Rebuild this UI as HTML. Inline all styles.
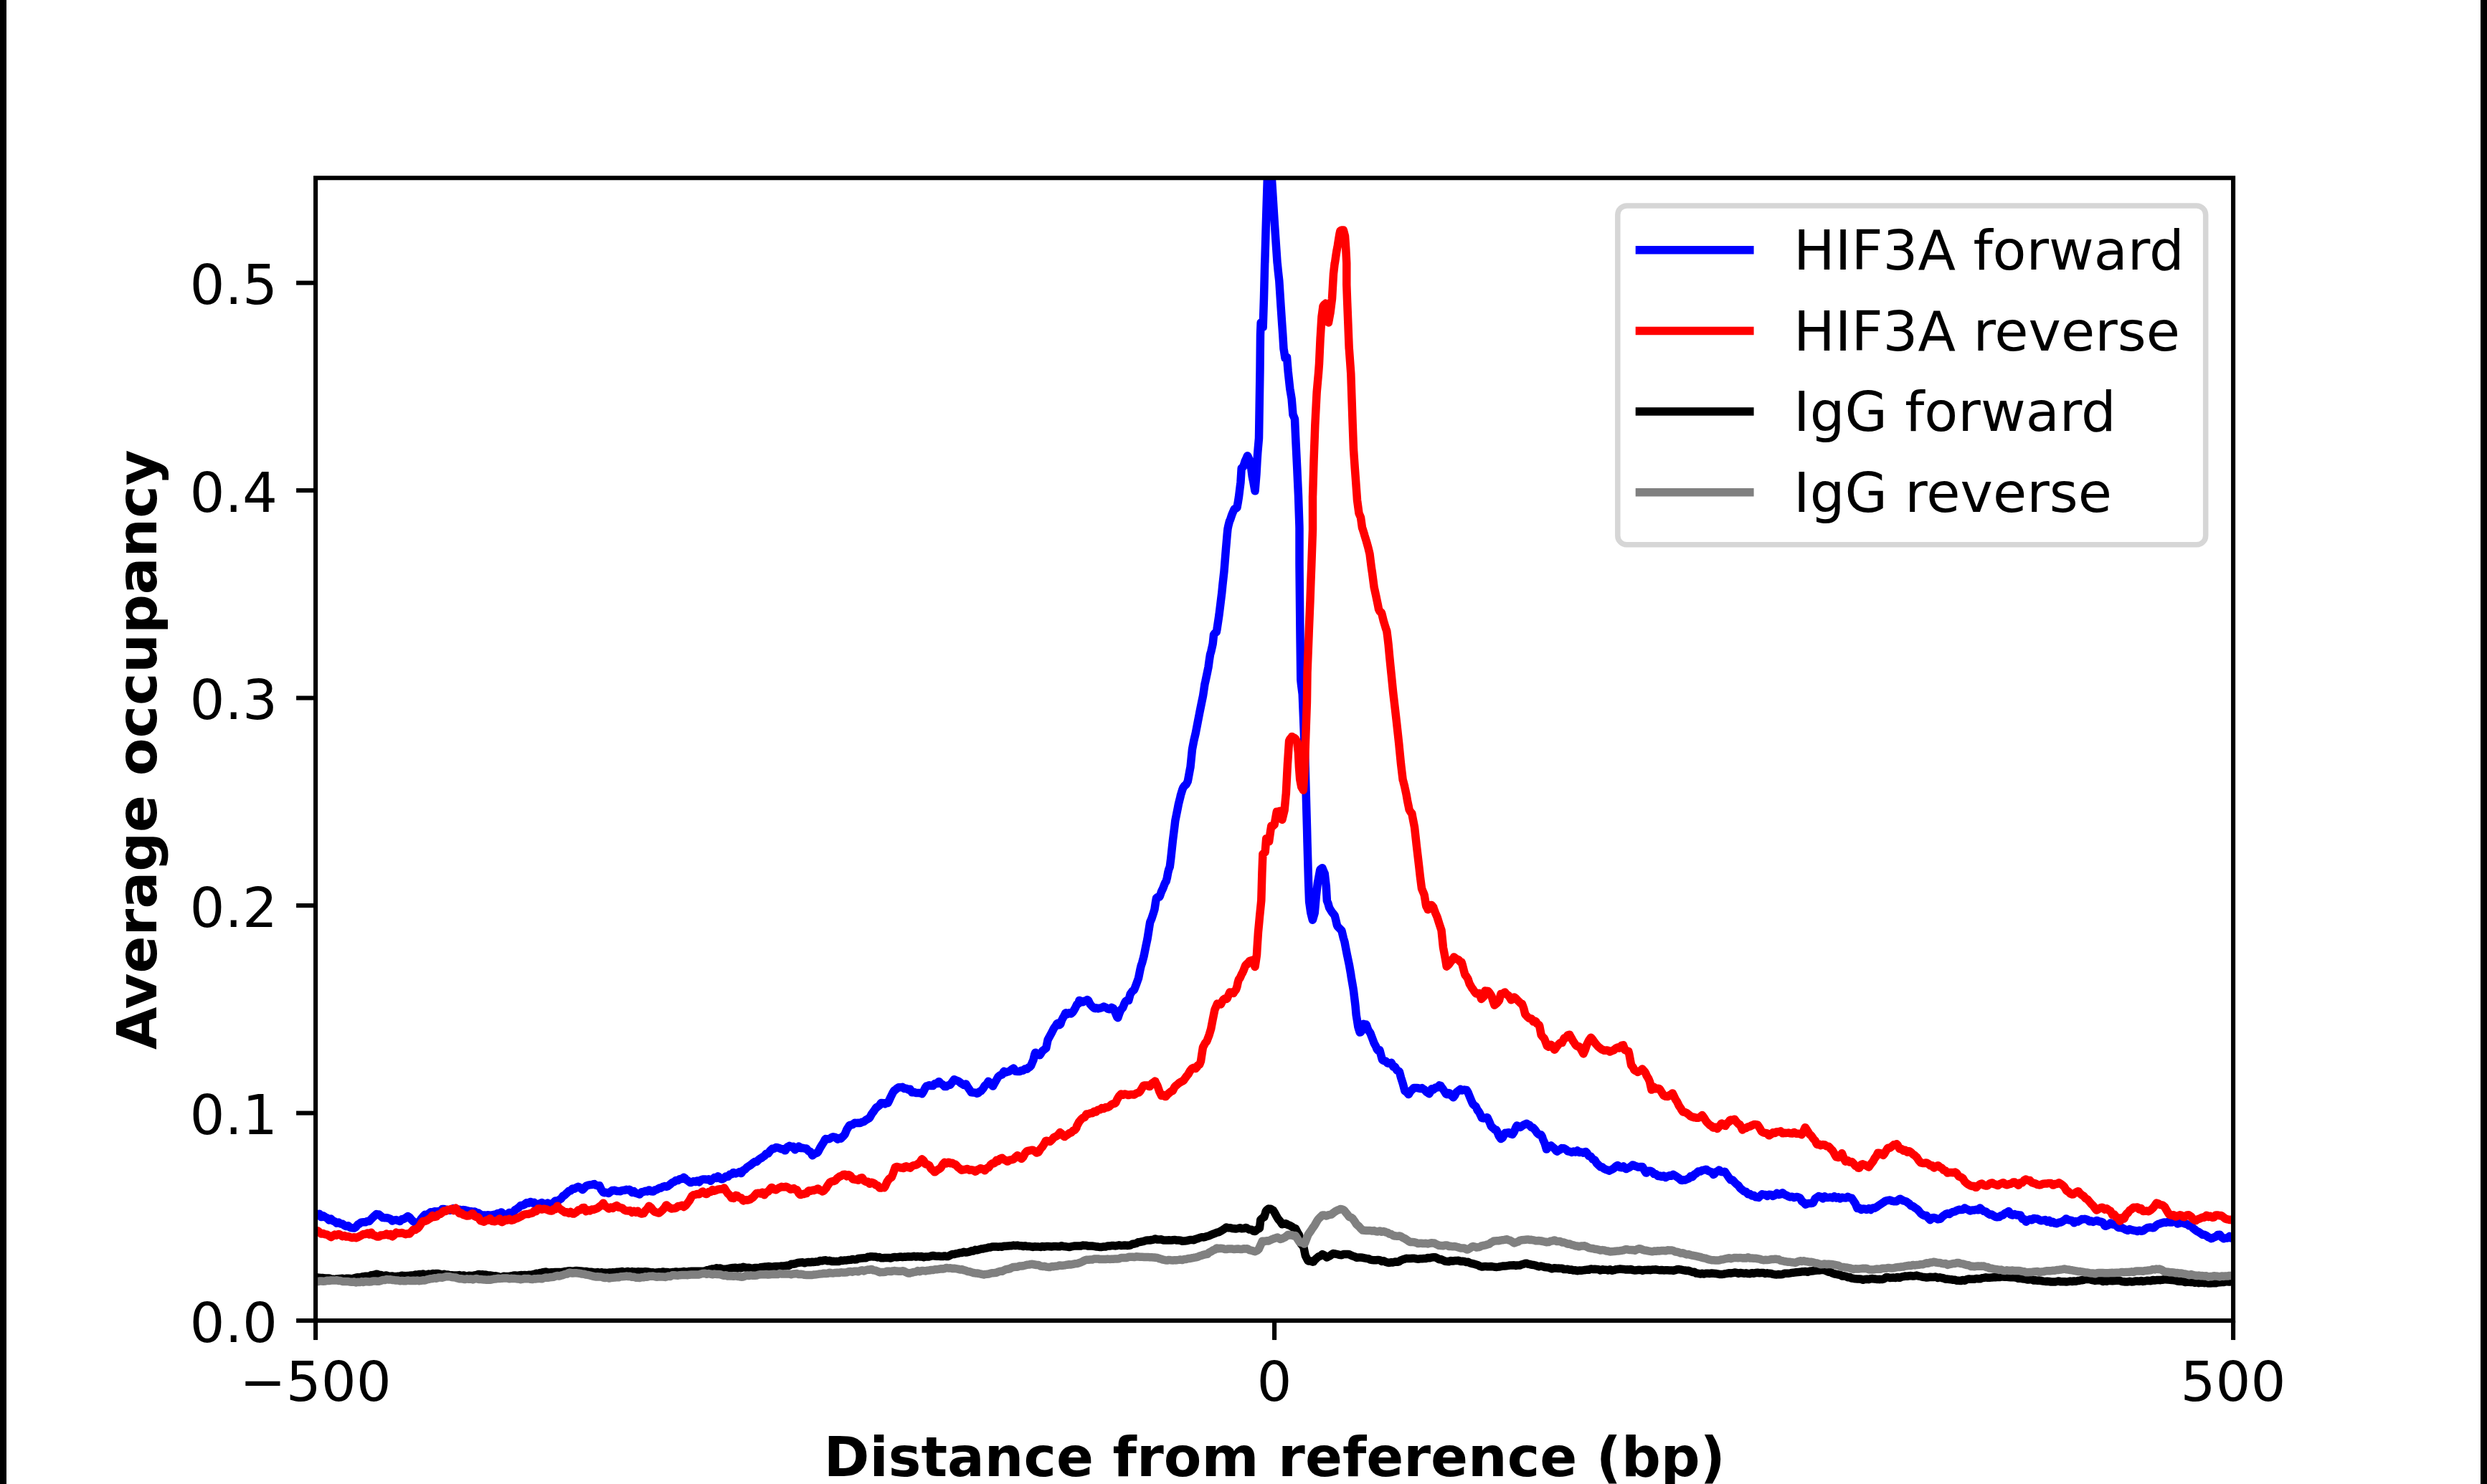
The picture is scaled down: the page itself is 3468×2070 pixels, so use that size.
<!DOCTYPE html>
<html lang="en"><head><meta charset="utf-8"><title>Average occupancy</title>
<style>html,body{margin:0;padding:0;background:#fff;}body{width:3468px;height:2070px;overflow:hidden;}svg{display:block;}text{font-family:"DejaVu Sans","Liberation Sans",sans-serif;fill:#000;}</style></head><body>
<svg width="3468" height="2070" viewBox="0 0 3468 2070">
<rect x="0" y="0" width="3468" height="2070" fill="#fff"/>
<rect x="0" y="0" width="9" height="2070" fill="#000"/>
<rect x="3459" y="0" width="9" height="2070" fill="#000"/>
<defs><clipPath id="ax"><rect x="440.1" y="248.2" width="2674.0" height="1593.9"/></clipPath></defs>
<g clip-path="url(#ax)" fill="none" stroke-width="11.5" stroke-linejoin="round" stroke-linecap="square">
<path d="M440.0 1693.6 L440.1 1693.5 L442.8 1695.6 L443.8 1694.7 L445.4 1693.3 L448.1 1697.6 L450.8 1695.9 L452.5 1696.9 L453.5 1697.8 L456.1 1698.8 L458.8 1701.8 L461.5 1700.1 L462.5 1701.2 L464.2 1702.8 L466.8 1703.8 L469.5 1706.2 L472.2 1705.1 L472.5 1705.4 L474.9 1707.0 L477.5 1707.3 L480.2 1709.2 L482.5 1710.5 L482.9 1710.6 L485.6 1709.7 L488.2 1712.3 L490.9 1712.7 L493.6 1712.9 L493.8 1713.0 L496.3 1711.5 L498.9 1708.2 L501.6 1706.8 L502.5 1705.9 L504.3 1704.9 L506.9 1704.8 L509.6 1704.8 L510.0 1704.6 L512.3 1703.4 L515.0 1703.4 L515.0 1703.4 L517.6 1700.5 L520.3 1697.7 L523.0 1695.2 L525.0 1693.6 L525.7 1694.0 L528.3 1694.0 L531.0 1696.2 L533.7 1698.5 L535.0 1698.6 L536.4 1698.7 L539.0 1698.8 L541.7 1699.2 L544.4 1700.3 L545.0 1701.1 L547.1 1703.0 L549.7 1701.9 L552.4 1701.6 L555.0 1702.6 L555.1 1702.6 L557.8 1703.5 L560.4 1700.8 L562.5 1700.5 L563.1 1700.3 L565.8 1698.7 L568.5 1696.8 L568.8 1696.6 L571.1 1698.1 L573.8 1701.2 L576.2 1703.6 L576.5 1703.7 L579.1 1705.4 L581.8 1706.7 L582.5 1707.0 L584.5 1704.4 L587.2 1700.3 L589.8 1697.3 L590.0 1697.0 L592.5 1694.3 L595.2 1694.8 L597.9 1692.8 L600.0 1691.1 L600.5 1690.8 L603.2 1690.9 L605.9 1689.7 L608.6 1690.0 L611.2 1689.7 L612.5 1689.7 L613.9 1689.9 L616.6 1686.6 L619.3 1686.5 L621.9 1687.2 L624.6 1687.7 L627.3 1688.3 L627.5 1688.2 L630.0 1687.7 L632.6 1685.5 L635.3 1686.9 L638.0 1687.8 L640.0 1687.3 L640.6 1687.3 L643.3 1688.2 L646.0 1687.6 L648.7 1688.0 L651.3 1688.8 L652.5 1689.0 L654.0 1689.4 L656.7 1689.8 L659.4 1690.2 L662.0 1690.1 L664.7 1691.5 L665.0 1691.6 L667.4 1692.2 L670.1 1694.0 L672.7 1695.0 L675.4 1695.0 L677.5 1695.3 L678.1 1695.1 L680.8 1694.7 L683.4 1695.4 L686.1 1694.9 L688.8 1694.3 L690.0 1694.3 L691.5 1694.0 L694.1 1692.4 L696.8 1692.6 L698.8 1691.1 L699.5 1691.1 L702.2 1693.7 L704.8 1694.0 L705.0 1694.1 L707.5 1693.7 L710.2 1691.5 L712.8 1691.9 L715.0 1691.8 L715.5 1691.5 L718.2 1687.7 L720.9 1686.1 L722.5 1684.9 L723.5 1684.4 L726.2 1681.4 L728.9 1681.3 L731.6 1680.1 L732.5 1679.0 L734.2 1677.7 L736.9 1678.3 L739.6 1676.4 L740.0 1676.5 L742.3 1678.1 L744.9 1677.4 L747.5 1680.4 L747.6 1680.5 L750.3 1679.5 L753.0 1678.7 L755.6 1677.6 L757.5 1678.6 L758.3 1679.4 L761.0 1680.7 L763.7 1678.0 L765.0 1679.7 L766.3 1680.6 L769.0 1679.9 L771.7 1677.6 L772.5 1676.9 L774.3 1675.1 L777.0 1675.7 L779.7 1673.6 L782.4 1672.0 L782.5 1671.9 L785.0 1668.4 L787.7 1666.9 L790.0 1664.4 L790.4 1664.2 L793.1 1661.4 L795.7 1660.9 L798.4 1657.9 L800.0 1658.0 L801.1 1658.3 L803.8 1656.5 L806.2 1655.3 L806.4 1655.4 L809.1 1656.9 L811.8 1659.2 L812.5 1659.5 L814.5 1657.5 L817.1 1654.6 L817.5 1654.2 L819.8 1653.4 L822.5 1652.7 L825.2 1652.6 L827.8 1651.7 L828.8 1651.6 L830.5 1653.0 L833.2 1653.9 L835.9 1653.8 L836.2 1654.5 L838.5 1659.5 L841.2 1663.2 L842.5 1663.7 L843.9 1663.3 L846.5 1663.7 L848.8 1664.4 L849.2 1664.0 L851.9 1661.9 L853.8 1660.5 L854.6 1660.7 L857.2 1660.3 L859.9 1661.4 L862.5 1661.6 L862.6 1661.6 L865.3 1661.8 L867.9 1660.4 L870.0 1660.3 L870.6 1660.3 L873.3 1659.3 L876.0 1659.9 L877.5 1659.2 L878.6 1659.8 L881.3 1663.4 L884.0 1661.7 L886.2 1664.2 L886.7 1664.3 L889.3 1665.1 L892.0 1666.0 L894.7 1662.8 L895.0 1662.8 L897.4 1662.3 L900.0 1661.3 L902.7 1661.9 L905.0 1659.9 L905.4 1659.9 L908.0 1661.8 L910.7 1662.0 L911.2 1662.0 L913.4 1659.8 L916.1 1659.3 L918.7 1657.6 L920.0 1657.0 L921.4 1657.2 L924.1 1655.5 L926.8 1654.6 L929.4 1655.3 L931.2 1654.8 L932.1 1654.0 L934.8 1651.9 L937.5 1649.5 L940.0 1648.5 L940.1 1648.5 L942.8 1646.4 L945.5 1646.5 L947.5 1644.9 L948.2 1644.7 L950.8 1644.3 L953.5 1642.3 L955.0 1643.4 L956.2 1645.1 L958.9 1646.7 L961.5 1648.8 L962.5 1649.6 L964.2 1649.5 L966.9 1647.8 L969.6 1648.6 L972.2 1647.0 L972.5 1647.2 L974.9 1649.0 L977.6 1645.8 L980.2 1645.1 L982.9 1645.0 L985.0 1645.3 L985.6 1645.4 L988.3 1644.8 L990.9 1647.2 L993.6 1644.7 L993.8 1644.7 L996.3 1642.5 L999.0 1643.4 L1001.2 1640.9 L1001.6 1641.1 L1004.3 1643.2 L1005.0 1644.4 L1007.0 1644.8 L1009.7 1643.2 L1012.3 1640.9 L1015.0 1641.3 L1015.0 1641.3 L1017.7 1638.3 L1020.4 1637.9 L1022.5 1635.7 L1023.0 1635.5 L1025.7 1636.9 L1028.4 1636.1 L1030.0 1635.6 L1031.1 1634.6 L1033.7 1636.6 L1036.4 1632.6 L1037.5 1632.1 L1039.1 1631.0 L1041.7 1628.3 L1044.4 1626.5 L1045.0 1626.2 L1047.1 1624.7 L1049.8 1622.5 L1052.4 1620.6 L1052.5 1620.6 L1055.1 1620.6 L1057.8 1617.8 L1060.5 1615.7 L1062.0 1615.2 L1063.1 1614.2 L1065.8 1612.5 L1068.5 1609.3 L1069.5 1609.3 L1071.2 1609.1 L1073.8 1605.2 L1076.5 1602.7 L1077.0 1602.3 L1079.2 1602.2 L1081.9 1600.6 L1084.5 1600.8 L1087.0 1601.7 L1087.2 1601.9 L1089.9 1602.8 L1092.6 1602.7 L1094.5 1604.8 L1095.2 1604.8 L1097.9 1599.9 L1100.6 1598.6 L1100.8 1598.4 L1103.3 1600.0 L1105.9 1599.3 L1107.0 1601.7 L1108.6 1603.7 L1111.3 1601.4 L1113.9 1599.2 L1115.8 1600.4 L1116.6 1601.6 L1119.3 1601.2 L1122.0 1602.0 L1124.5 1602.0 L1124.6 1602.1 L1127.3 1605.4 L1130.0 1606.6 L1132.7 1611.4 L1133.2 1611.7 L1135.3 1609.7 L1138.0 1608.5 L1139.5 1608.2 L1140.7 1606.7 L1143.4 1601.6 L1146.0 1597.3 L1148.7 1593.0 L1150.8 1589.1 L1151.4 1588.6 L1154.1 1588.9 L1156.7 1588.5 L1159.4 1586.7 L1162.0 1585.8 L1162.1 1585.9 L1164.8 1586.4 L1167.4 1588.6 L1168.2 1589.1 L1170.1 1587.5 L1172.8 1588.1 L1175.4 1585.0 L1175.8 1584.9 L1178.1 1582.2 L1180.8 1575.6 L1183.5 1571.4 L1184.5 1569.8 L1186.1 1569.3 L1188.8 1568.7 L1191.5 1566.6 L1192.0 1566.3 L1194.2 1566.4 L1196.8 1566.3 L1199.5 1566.4 L1202.0 1565.3 L1202.2 1565.1 L1204.9 1564.4 L1207.5 1562.3 L1210.2 1560.7 L1212.0 1559.8 L1212.9 1558.7 L1215.6 1553.7 L1218.2 1550.4 L1220.9 1546.3 L1222.0 1545.0 L1223.6 1544.0 L1226.3 1542.0 L1228.2 1539.0 L1228.9 1538.4 L1231.6 1538.7 L1233.2 1538.8 L1234.3 1539.8 L1237.0 1537.7 L1238.2 1538.5 L1239.6 1535.7 L1242.3 1529.7 L1245.0 1524.3 L1247.0 1521.0 L1247.6 1521.2 L1250.3 1518.6 L1253.0 1516.8 L1255.7 1516.8 L1255.8 1516.8 L1258.3 1516.3 L1261.0 1518.4 L1263.7 1518.3 L1266.4 1519.9 L1267.0 1519.6 L1269.0 1519.2 L1271.7 1523.8 L1274.4 1523.2 L1277.0 1524.3 L1277.1 1524.4 L1279.7 1524.5 L1282.4 1524.6 L1285.1 1525.3 L1285.8 1525.6 L1287.8 1522.5 L1290.4 1517.1 L1292.0 1514.9 L1293.1 1515.1 L1295.8 1513.7 L1298.5 1514.6 L1300.8 1514.6 L1301.1 1514.4 L1303.8 1511.4 L1306.5 1511.6 L1309.1 1508.7 L1309.5 1508.7 L1311.8 1511.5 L1314.5 1512.9 L1317.2 1515.5 L1319.5 1515.6 L1319.8 1515.1 L1322.5 1513.8 L1325.2 1513.1 L1327.9 1509.2 L1330.5 1505.8 L1330.8 1505.7 L1333.2 1507.0 L1335.9 1507.9 L1338.6 1509.6 L1339.5 1510.6 L1341.2 1511.7 L1343.9 1513.4 L1346.6 1512.1 L1347.0 1512.2 L1349.3 1516.2 L1351.9 1519.8 L1354.5 1523.8 L1354.6 1523.8 L1357.3 1523.9 L1360.0 1524.3 L1362.6 1525.2 L1364.5 1524.4 L1365.3 1523.0 L1368.0 1521.8 L1370.7 1518.6 L1373.3 1514.4 L1376.0 1512.1 L1378.2 1508.3 L1378.7 1508.5 L1381.3 1511.4 L1384.0 1514.7 L1384.5 1515.1 L1386.7 1511.2 L1389.4 1506.5 L1392.0 1501.9 L1392.0 1501.9 L1394.7 1499.7 L1397.4 1498.9 L1399.5 1495.1 L1400.1 1494.4 L1402.7 1495.9 L1405.4 1494.9 L1405.8 1494.9 L1408.1 1493.9 L1410.8 1491.7 L1410.8 1491.7 L1413.4 1490.1 L1415.8 1493.9 L1416.1 1494.3 L1418.8 1494.4 L1421.5 1494.5 L1422.0 1494.4 L1424.1 1493.2 L1426.8 1493.2 L1429.5 1490.9 L1429.5 1490.9 L1432.2 1491.3 L1434.8 1488.6 L1435.8 1488.5 L1437.5 1486.8 L1440.2 1480.2 L1440.8 1479.1 L1442.8 1470.7 L1443.8 1468.2 L1445.5 1470.4 L1448.2 1471.5 L1450.0 1471.8 L1450.9 1470.5 L1453.5 1466.1 L1456.2 1464.0 L1458.8 1462.0 L1458.9 1461.4 L1461.2 1450.2 L1461.6 1449.5 L1464.2 1444.7 L1466.9 1439.7 L1468.8 1435.9 L1469.6 1434.4 L1472.3 1430.7 L1473.8 1428.1 L1474.9 1427.4 L1477.6 1429.6 L1478.8 1428.5 L1480.3 1423.7 L1482.5 1419.3 L1483.0 1418.8 L1485.6 1413.5 L1486.2 1413.0 L1488.3 1414.6 L1491.0 1412.8 L1491.2 1413.1 L1493.7 1413.9 L1496.2 1411.5 L1496.3 1411.3 L1498.8 1407.0 L1499.0 1406.9 L1501.7 1401.1 L1503.8 1400.0 L1504.4 1397.9 L1505.0 1395.4 L1507.0 1396.1 L1509.7 1397.7 L1511.2 1397.2 L1512.4 1396.2 L1515.0 1395.7 L1516.2 1394.4 L1517.7 1395.8 L1520.0 1400.6 L1520.4 1401.0 L1523.1 1404.0 L1525.7 1406.3 L1527.5 1406.7 L1528.4 1405.9 L1531.1 1406.9 L1532.5 1406.2 L1533.8 1406.4 L1536.4 1405.5 L1539.1 1404.1 L1540.0 1404.5 L1541.8 1405.3 L1544.5 1406.9 L1545.0 1407.4 L1547.1 1407.7 L1549.8 1405.6 L1550.0 1405.4 L1552.5 1406.7 L1553.8 1409.2 L1555.2 1412.5 L1557.8 1418.8 L1558.8 1419.8 L1560.5 1414.6 L1562.5 1409.7 L1563.2 1408.2 L1565.9 1405.4 L1567.5 1401.0 L1568.5 1398.8 L1570.0 1396.3 L1571.2 1395.7 L1573.8 1395.5 L1573.9 1395.1 L1576.2 1386.5 L1576.5 1386.1 L1579.2 1382.4 L1581.2 1381.0 L1581.9 1379.7 L1584.6 1372.6 L1587.2 1365.4 L1587.5 1364.7 L1589.9 1352.6 L1591.2 1347.0 L1592.6 1343.1 L1595.0 1334.1 L1595.3 1332.6 L1597.9 1319.7 L1600.0 1309.8 L1600.6 1306.0 L1603.3 1288.9 L1603.8 1286.1 L1606.0 1281.1 L1608.6 1272.9 L1610.0 1268.4 L1611.3 1259.6 L1612.5 1252.7 L1614.0 1251.5 L1616.7 1251.1 L1617.5 1249.7 L1619.3 1244.3 L1622.0 1238.5 L1623.8 1233.6 L1624.7 1231.4 L1626.2 1229.2 L1627.4 1224.4 L1628.8 1216.8 L1630.0 1212.3 L1631.2 1209.4 L1632.7 1197.7 L1635.0 1176.3 L1635.4 1172.7 L1638.1 1151.1 L1638.8 1144.9 L1640.7 1135.4 L1642.5 1126.3 L1643.4 1121.6 L1646.1 1110.8 L1646.2 1109.9 L1648.7 1101.7 L1650.0 1098.5 L1651.4 1096.5 L1654.1 1094.2 L1656.2 1090.2 L1656.8 1087.2 L1659.4 1072.9 L1660.0 1070.0 L1662.1 1049.0 L1662.5 1045.1 L1664.8 1033.1 L1667.5 1021.6 L1667.5 1021.4 L1670.1 1007.8 L1672.5 995.5 L1672.8 993.9 L1675.5 980.5 L1677.5 970.8 L1678.2 966.3 L1680.0 954.2 L1680.8 950.8 L1683.5 938.0 L1685.0 930.6 L1686.2 921.8 L1687.5 913.1 L1688.9 908.3 L1691.2 898.0 L1691.5 895.1 L1692.5 885.4 L1694.2 883.0 L1696.2 881.7 L1696.9 878.4 L1699.6 860.3 L1700.0 857.6 L1702.2 839.7 L1703.8 826.8 L1704.9 815.6 L1707.0 796.6 L1707.6 789.2 L1709.5 765.4 L1710.2 757.3 L1711.2 745.5 L1712.0 737.7 L1712.9 733.3 L1714.5 727.0 L1715.6 724.7 L1717.5 718.9 L1718.3 716.7 L1720.9 710.8 L1721.2 710.2 L1723.6 709.0 L1725.0 708.0 L1726.3 700.6 L1727.5 693.0 L1729.0 680.8 L1730.0 672.7 L1731.2 653.0 L1731.6 652.7 L1733.8 650.9 L1734.3 649.3 L1736.2 643.1 L1737.0 641.7 L1739.5 635.8 L1739.7 636.0 L1742.3 641.7 L1743.8 644.8 L1745.0 655.2 L1746.2 664.6 L1747.7 671.8 L1750.0 684.8 L1750.4 680.9 L1752.0 661.3 L1753.0 642.9 L1753.8 630.8 L1755.5 611.2 L1755.7 598.8 L1756.2 566.5 L1757.0 516.8 L1757.5 467.1 L1758.2 449.9 L1758.4 450.4 L1761.1 455.7 L1761.2 456.3 L1762.5 415.5 L1763.7 366.8 L1763.8 366.0 L1763.8 366.0 L1765.4 310.9 L1766.4 278.6 L1767.3 250.5 L1768.9 238.3 L1769.1 237.8 L1770.4 235.2 L1771.8 239.4 L1771.9 239.8 L1773.5 250.6 L1774.4 264.6 L1777.1 307.8 L1777.3 311.0 L1779.8 347.7 L1781.1 366.9 L1781.2 367.0 L1782.4 379.2 L1783.8 391.8 L1785.1 412.1 L1786.2 429.2 L1787.8 452.8 L1788.8 466.9 L1790.0 486.6 L1790.5 489.4 L1792.0 499.6 L1793.1 498.9 L1794.5 498.0 L1795.8 513.6 L1796.2 518.3 L1798.5 539.6 L1798.8 542.2 L1801.2 556.6 L1801.2 557.1 L1803.0 578.8 L1803.8 580.1 L1805.5 584.5 L1806.5 607.1 L1807.0 617.4 L1808.8 654.0 L1809.2 663.2 L1810.5 691.3 L1811.9 732.8 L1812.0 737.1 L1812.0 787.3 L1812.5 837.6 L1813.0 887.8 L1813.8 948.1 L1814.5 954.8 L1816.2 968.3 L1817.0 988.2 L1817.2 993.4 L1818.0 1013.4 L1819.9 1061.1 L1820.0 1064.0 L1821.3 1110.5 L1822.6 1158.0 L1823.0 1175.0 L1824.5 1227.8 L1825.2 1247.1 L1825.6 1257.6 L1827.8 1273.2 L1827.9 1273.7 L1830.3 1283.2 L1830.6 1282.6 L1833.1 1274.0 L1833.3 1272.8 L1835.3 1250.1 L1835.9 1244.4 L1837.5 1230.9 L1838.6 1225.5 L1840.7 1213.7 L1841.3 1212.6 L1843.9 1210.7 L1843.9 1210.8 L1846.6 1217.2 L1847.2 1218.4 L1849.3 1236.7 L1849.3 1236.8 L1850.4 1256.4 L1852.0 1260.4 L1853.6 1266.2 L1854.6 1267.9 L1857.3 1272.3 L1860.0 1275.5 L1861.2 1277.1 L1862.7 1283.1 L1864.4 1290.6 L1865.3 1292.3 L1868.0 1295.2 L1870.7 1297.8 L1870.9 1298.1 L1873.4 1308.6 L1875.0 1313.9 L1876.0 1319.2 L1878.7 1333.1 L1878.8 1333.3 L1881.4 1345.8 L1883.8 1359.6 L1884.1 1362.0 L1886.7 1376.9 L1887.5 1382.1 L1889.4 1397.7 L1890.0 1402.8 L1891.2 1415.9 L1892.1 1421.2 L1893.8 1432.1 L1894.8 1435.6 L1896.2 1440.1 L1897.4 1439.6 L1898.8 1437.8 L1900.1 1432.0 L1901.2 1428.3 L1902.8 1429.3 L1905.0 1429.1 L1905.5 1429.8 L1908.1 1437.4 L1908.8 1438.1 L1910.8 1440.9 L1913.5 1448.0 L1915.0 1452.0 L1916.1 1455.0 L1918.8 1459.9 L1920.0 1463.2 L1921.5 1465.1 L1923.8 1464.8 L1924.2 1465.9 L1926.8 1475.9 L1927.5 1478.2 L1929.5 1479.6 L1932.2 1480.1 L1934.9 1482.9 L1936.5 1483.3 L1937.5 1483.3 L1940.2 1482.3 L1942.9 1488.2 L1944.0 1487.3 L1945.6 1488.7 L1947.8 1492.7 L1948.2 1493.1 L1950.9 1494.4 L1951.5 1495.3 L1953.6 1503.3 L1956.3 1511.7 L1958.9 1521.6 L1959.0 1521.8 L1961.6 1523.5 L1964.0 1526.5 L1964.3 1526.4 L1967.0 1522.0 L1969.6 1519.5 L1971.5 1517.4 L1972.3 1517.5 L1975.0 1517.4 L1977.6 1517.8 L1977.8 1517.9 L1980.3 1518.5 L1982.8 1517.7 L1983.0 1518.0 L1985.7 1519.6 L1988.3 1522.0 L1989.0 1523.0 L1991.0 1524.4 L1992.8 1525.7 L1993.7 1524.5 L1996.4 1518.9 L1996.5 1518.8 L1999.0 1519.8 L2001.7 1517.0 L2002.8 1517.1 L2004.4 1517.1 L2007.1 1513.9 L2009.0 1514.5 L2009.7 1515.9 L2012.4 1519.5 L2015.1 1523.7 L2016.5 1526.0 L2017.8 1526.4 L2020.4 1524.6 L2021.5 1525.0 L2023.1 1527.6 L2025.8 1529.8 L2026.5 1530.7 L2028.5 1528.3 L2031.1 1523.4 L2033.8 1521.5 L2034.0 1521.1 L2036.5 1519.3 L2039.0 1520.9 L2039.2 1521.0 L2041.8 1520.0 L2044.5 1520.7 L2045.2 1520.5 L2047.2 1524.1 L2049.8 1530.6 L2052.5 1537.1 L2054.0 1540.1 L2055.2 1541.3 L2057.9 1543.3 L2060.5 1549.0 L2061.5 1549.7 L2063.2 1552.5 L2065.9 1558.4 L2066.5 1559.6 L2068.6 1559.9 L2071.2 1559.3 L2073.9 1558.7 L2074.0 1558.8 L2076.6 1564.2 L2079.3 1570.9 L2081.5 1573.1 L2081.9 1573.0 L2084.6 1576.0 L2086.5 1576.1 L2087.3 1577.4 L2090.0 1584.2 L2092.6 1588.1 L2092.8 1588.5 L2095.3 1587.0 L2098.0 1581.6 L2099.0 1580.3 L2100.7 1580.6 L2103.3 1579.7 L2104.0 1579.8 L2106.0 1581.4 L2108.7 1582.2 L2109.0 1582.5 L2111.3 1578.9 L2114.0 1572.1 L2115.2 1570.1 L2116.7 1570.5 L2119.4 1572.5 L2120.2 1572.4 L2122.0 1570.9 L2124.7 1569.2 L2127.4 1567.8 L2129.0 1567.2 L2130.1 1568.3 L2132.7 1569.4 L2135.4 1572.4 L2137.8 1573.1 L2138.1 1573.3 L2140.8 1576.4 L2143.4 1580.3 L2144.0 1580.9 L2146.1 1582.7 L2148.8 1582.8 L2150.2 1585.0 L2151.5 1589.1 L2154.1 1594.9 L2156.5 1603.0 L2156.8 1603.0 L2159.5 1599.0 L2162.2 1598.1 L2162.8 1597.9 L2164.8 1599.8 L2167.5 1602.0 L2170.2 1605.3 L2171.5 1606.1 L2172.9 1604.8 L2175.5 1603.5 L2177.8 1601.6 L2178.2 1601.8 L2180.9 1601.8 L2183.5 1603.2 L2186.2 1605.8 L2188.9 1606.2 L2191.5 1607.4 L2191.6 1607.4 L2194.2 1606.0 L2196.5 1606.7 L2196.9 1607.0 L2199.6 1605.0 L2202.3 1607.5 L2202.8 1607.5 L2204.9 1606.9 L2207.6 1608.1 L2210.3 1606.7 L2211.5 1606.6 L2213.0 1608.2 L2215.6 1612.5 L2218.3 1613.1 L2221.0 1617.1 L2223.7 1617.9 L2226.3 1622.4 L2226.5 1622.6 L2229.0 1625.0 L2231.7 1627.6 L2234.0 1628.2 L2234.4 1628.1 L2237.0 1630.3 L2239.7 1631.5 L2242.4 1632.3 L2244.0 1633.1 L2245.0 1632.5 L2247.7 1631.3 L2250.4 1629.7 L2251.5 1628.6 L2253.1 1627.0 L2255.7 1625.5 L2257.8 1626.9 L2258.4 1628.1 L2261.1 1628.7 L2263.8 1627.0 L2266.4 1629.8 L2267.8 1630.5 L2269.1 1629.9 L2271.8 1628.6 L2274.5 1626.7 L2276.5 1624.9 L2277.1 1624.9 L2279.8 1626.4 L2282.5 1627.1 L2284.0 1627.9 L2285.2 1628.0 L2287.8 1627.5 L2290.2 1627.4 L2290.5 1627.8 L2293.2 1632.8 L2295.2 1636.1 L2295.9 1636.0 L2298.5 1633.3 L2301.2 1633.4 L2301.5 1633.3 L2303.9 1634.4 L2306.0 1637.0 L2306.6 1637.6 L2309.2 1637.8 L2311.9 1640.5 L2314.6 1640.1 L2316.0 1641.1 L2317.2 1641.3 L2319.9 1640.0 L2322.6 1642.4 L2325.3 1640.9 L2327.2 1640.2 L2327.9 1639.8 L2330.6 1640.2 L2333.3 1638.3 L2336.0 1640.0 L2336.0 1640.0 L2338.6 1641.8 L2341.3 1643.6 L2344.0 1646.3 L2346.0 1646.4 L2346.7 1645.8 L2349.3 1646.1 L2352.0 1645.0 L2354.7 1643.9 L2356.0 1642.7 L2357.4 1640.9 L2360.0 1641.6 L2362.7 1638.3 L2365.4 1636.7 L2366.0 1636.0 L2368.1 1634.1 L2370.7 1634.1 L2373.4 1632.6 L2373.5 1632.6 L2376.1 1632.0 L2378.7 1631.3 L2379.8 1631.5 L2381.4 1632.9 L2384.1 1634.1 L2386.8 1635.0 L2389.4 1638.5 L2391.0 1637.2 L2392.1 1635.1 L2394.8 1633.9 L2397.2 1632.1 L2397.5 1632.2 L2400.1 1634.6 L2402.8 1634.8 L2404.8 1634.3 L2405.5 1634.6 L2408.2 1638.6 L2410.8 1642.4 L2413.5 1645.9 L2416.0 1646.3 L2416.2 1646.2 L2418.9 1649.2 L2421.5 1651.8 L2422.2 1652.2 L2424.2 1653.8 L2426.9 1657.6 L2429.6 1659.8 L2429.8 1660.0 L2432.2 1661.8 L2434.9 1662.4 L2436.0 1663.9 L2437.6 1665.8 L2440.3 1665.6 L2442.9 1667.9 L2444.8 1667.6 L2445.6 1667.5 L2448.3 1669.8 L2450.9 1670.0 L2452.2 1670.5 L2453.6 1669.0 L2456.3 1666.6 L2457.2 1665.8 L2459.0 1666.4 L2461.6 1666.5 L2464.3 1668.4 L2467.0 1666.3 L2468.5 1666.5 L2469.7 1666.4 L2472.3 1668.5 L2475.0 1667.1 L2477.2 1664.9 L2477.7 1664.5 L2480.4 1666.4 L2483.0 1665.9 L2484.8 1664.3 L2485.7 1663.8 L2488.4 1666.2 L2491.1 1667.3 L2493.7 1668.8 L2496.0 1669.6 L2496.4 1669.7 L2499.1 1669.2 L2501.8 1670.4 L2504.4 1669.7 L2506.0 1669.5 L2507.1 1669.8 L2509.8 1671.0 L2511.0 1672.3 L2512.4 1675.4 L2514.8 1677.3 L2515.1 1677.1 L2517.8 1680.1 L2519.8 1679.4 L2520.5 1678.8 L2523.1 1678.5 L2525.8 1678.4 L2527.2 1678.3 L2528.5 1677.4 L2531.2 1671.8 L2533.8 1670.2 L2536.0 1668.6 L2536.5 1669.0 L2539.2 1669.5 L2541.9 1671.9 L2542.2 1671.6 L2544.5 1668.9 L2547.2 1670.6 L2548.5 1670.4 L2549.9 1670.4 L2552.6 1670.0 L2555.2 1671.0 L2557.9 1668.9 L2560.6 1671.0 L2561.0 1670.7 L2563.3 1669.9 L2565.9 1671.9 L2566.0 1671.9 L2568.6 1670.3 L2571.0 1670.6 L2571.3 1670.8 L2574.0 1671.0 L2576.6 1669.3 L2579.3 1670.8 L2582.0 1671.1 L2582.2 1671.2 L2584.6 1675.0 L2587.3 1679.0 L2589.8 1685.2 L2590.0 1685.5 L2592.7 1685.1 L2595.3 1687.4 L2596.0 1687.2 L2598.0 1686.1 L2600.7 1686.2 L2602.2 1687.2 L2603.4 1687.2 L2606.0 1685.7 L2608.7 1687.5 L2609.8 1686.4 L2611.4 1684.9 L2614.1 1685.3 L2616.7 1683.6 L2617.2 1683.5 L2619.4 1681.8 L2622.1 1680.0 L2624.8 1678.2 L2627.4 1676.6 L2628.5 1675.4 L2630.1 1674.9 L2632.8 1674.4 L2635.5 1674.0 L2636.0 1674.2 L2638.1 1675.1 L2640.8 1675.8 L2643.5 1675.8 L2644.8 1675.7 L2646.1 1674.6 L2648.8 1672.5 L2649.8 1672.2 L2651.5 1673.4 L2654.2 1674.9 L2656.8 1675.5 L2658.5 1676.3 L2659.5 1677.1 L2662.2 1678.9 L2664.9 1682.0 L2666.0 1682.3 L2667.5 1682.5 L2670.2 1684.6 L2672.9 1686.3 L2673.5 1686.7 L2675.6 1689.0 L2678.2 1692.3 L2680.9 1694.3 L2681.0 1694.4 L2683.6 1695.8 L2686.3 1695.5 L2688.9 1698.9 L2691.0 1701.2 L2691.6 1701.6 L2694.3 1698.8 L2697.0 1698.6 L2698.5 1699.0 L2699.6 1699.4 L2702.3 1700.7 L2705.0 1700.4 L2706.0 1700.1 L2707.7 1697.9 L2710.3 1695.6 L2713.0 1693.9 L2713.5 1693.4 L2715.7 1692.6 L2718.3 1693.5 L2718.5 1693.4 L2721.0 1691.5 L2723.7 1690.3 L2726.4 1689.8 L2728.5 1688.6 L2729.0 1688.3 L2731.7 1687.2 L2734.4 1687.6 L2737.1 1687.3 L2739.7 1685.0 L2739.8 1685.0 L2742.4 1686.7 L2745.1 1687.7 L2747.2 1688.9 L2747.8 1688.9 L2750.4 1687.9 L2753.1 1688.0 L2753.5 1687.9 L2755.8 1687.3 L2758.5 1687.8 L2761.1 1685.0 L2763.5 1687.4 L2763.8 1687.9 L2766.5 1689.5 L2769.2 1690.1 L2771.8 1692.4 L2774.5 1694.1 L2774.8 1694.2 L2777.2 1694.0 L2779.8 1695.8 L2782.5 1697.4 L2784.8 1697.8 L2785.2 1697.6 L2787.9 1697.4 L2790.5 1695.6 L2793.2 1694.7 L2793.5 1694.5 L2795.9 1692.4 L2798.6 1691.1 L2801.0 1689.6 L2801.2 1689.8 L2803.9 1694.2 L2806.0 1695.0 L2806.6 1694.7 L2809.3 1693.6 L2811.9 1694.9 L2813.5 1694.5 L2814.6 1695.2 L2817.3 1694.9 L2820.0 1700.2 L2822.6 1700.6 L2824.8 1703.9 L2825.3 1704.1 L2828.0 1702.0 L2830.7 1700.8 L2833.3 1701.7 L2833.5 1701.6 L2836.0 1699.5 L2838.7 1700.0 L2841.0 1700.1 L2841.4 1700.3 L2844.0 1701.8 L2846.0 1702.6 L2846.7 1702.7 L2849.4 1702.1 L2852.0 1701.6 L2854.7 1704.2 L2856.0 1703.1 L2857.4 1702.4 L2860.1 1705.5 L2862.7 1704.3 L2863.5 1705.0 L2865.4 1706.4 L2868.1 1706.7 L2870.8 1705.3 L2871.0 1705.4 L2873.4 1705.0 L2876.1 1703.7 L2878.8 1702.0 L2881.0 1700.0 L2881.5 1700.0 L2884.1 1701.7 L2886.8 1702.2 L2889.5 1702.7 L2892.2 1705.8 L2892.2 1705.8 L2894.8 1703.5 L2897.5 1704.1 L2899.8 1702.7 L2900.2 1702.5 L2902.9 1700.6 L2905.5 1700.7 L2907.2 1700.3 L2908.2 1700.7 L2910.9 1701.3 L2913.5 1703.7 L2914.8 1703.8 L2916.2 1703.0 L2918.9 1704.4 L2921.0 1703.4 L2921.6 1703.4 L2924.2 1702.4 L2926.9 1703.8 L2929.6 1704.3 L2929.8 1704.2 L2932.3 1705.1 L2934.9 1709.5 L2936.0 1710.3 L2937.6 1709.7 L2940.3 1708.5 L2943.0 1706.1 L2943.5 1706.1 L2945.6 1707.9 L2948.3 1707.7 L2951.0 1709.6 L2951.0 1709.6 L2953.7 1712.2 L2956.3 1712.4 L2958.5 1712.7 L2959.0 1712.6 L2961.7 1714.0 L2964.4 1715.4 L2967.0 1716.3 L2968.5 1715.4 L2969.7 1714.6 L2972.4 1715.6 L2975.1 1716.2 L2977.7 1716.6 L2978.5 1716.8 L2980.4 1717.4 L2983.1 1716.2 L2985.7 1717.1 L2986.0 1717.2 L2988.4 1716.9 L2991.1 1714.7 L2993.8 1713.0 L2996.0 1712.2 L2996.4 1712.3 L2999.1 1711.9 L3001.8 1712.7 L3003.5 1712.5 L3004.5 1711.6 L3007.1 1709.0 L3009.8 1707.4 L3012.5 1706.9 L3013.5 1706.2 L3015.2 1705.8 L3017.8 1704.9 L3020.5 1705.4 L3021.0 1705.1 L3023.2 1704.2 L3025.9 1705.1 L3028.5 1705.0 L3031.0 1704.3 L3031.2 1704.3 L3033.9 1703.3 L3036.6 1707.0 L3039.2 1706.3 L3041.0 1704.8 L3041.9 1703.9 L3044.6 1706.2 L3047.2 1707.2 L3048.5 1707.1 L3049.9 1707.6 L3052.6 1709.8 L3055.3 1710.0 L3056.0 1710.7 L3057.9 1713.0 L3060.6 1715.1 L3063.3 1717.2 L3063.5 1717.3 L3066.0 1718.5 L3068.6 1720.3 L3071.3 1722.2 L3073.5 1722.3 L3074.0 1722.3 L3076.7 1723.7 L3079.3 1725.6 L3082.0 1726.6 L3083.5 1727.6 L3084.7 1727.2 L3087.4 1725.9 L3090.0 1724.9 L3092.2 1722.6 L3092.7 1722.7 L3095.4 1722.2 L3098.1 1725.8 L3100.7 1727.7 L3101.0 1727.8 L3103.4 1727.1 L3106.1 1726.9 L3108.8 1724.6 L3111.4 1727.0 L3114.1 1726.0 L3114.8 1725.7" stroke="#0000ff"/>
<path d="M440.0 1718.8 L440.1 1719.0 L442.8 1716.8 L443.8 1717.4 L445.4 1718.7 L448.1 1721.1 L450.8 1720.6 L452.5 1721.5 L453.5 1721.7 L456.1 1722.1 L458.8 1723.7 L461.5 1725.6 L463.8 1724.1 L464.2 1723.7 L466.8 1722.1 L469.5 1723.1 L472.2 1721.5 L472.5 1721.5 L474.9 1722.7 L477.5 1724.6 L480.2 1723.6 L482.5 1724.9 L482.9 1725.1 L485.6 1724.7 L488.2 1725.7 L490.9 1726.5 L493.6 1725.7 L496.2 1726.7 L496.3 1726.7 L498.9 1725.8 L501.6 1724.4 L504.3 1723.0 L505.0 1722.6 L506.9 1721.5 L509.6 1721.4 L512.3 1720.0 L513.8 1720.5 L515.0 1722.1 L517.6 1719.2 L520.0 1722.3 L520.3 1722.7 L523.0 1723.5 L525.7 1725.0 L528.3 1724.9 L528.8 1724.8 L531.0 1723.0 L533.7 1722.9 L536.4 1722.5 L538.8 1721.1 L539.0 1721.1 L541.7 1722.9 L544.4 1721.4 L546.2 1724.3 L547.1 1724.8 L549.7 1722.7 L552.4 1719.3 L552.5 1719.2 L555.1 1720.3 L557.8 1720.1 L560.4 1719.5 L562.5 1720.4 L563.1 1720.6 L565.8 1721.7 L568.5 1720.7 L571.1 1720.9 L571.2 1720.9 L573.8 1718.0 L576.2 1715.4 L576.5 1715.3 L579.1 1715.6 L581.8 1713.3 L582.5 1713.4 L584.5 1711.2 L587.2 1706.9 L587.5 1706.2 L589.8 1703.4 L592.5 1703.4 L595.0 1702.4 L595.2 1702.3 L597.9 1700.6 L600.5 1699.1 L602.5 1696.2 L603.2 1695.7 L605.9 1697.5 L608.6 1696.9 L608.8 1696.8 L611.2 1694.1 L613.9 1693.5 L616.6 1691.4 L617.5 1690.2 L619.3 1688.9 L621.9 1689.4 L624.6 1687.5 L627.3 1687.1 L627.5 1687.0 L630.0 1686.2 L632.6 1688.7 L635.3 1685.1 L636.2 1685.9 L638.0 1689.1 L640.6 1692.5 L642.5 1692.7 L643.3 1692.1 L646.0 1694.4 L648.7 1695.1 L650.0 1695.8 L651.3 1696.0 L654.0 1695.8 L656.7 1693.8 L658.8 1692.7 L659.4 1692.8 L662.0 1696.6 L664.7 1697.8 L666.2 1697.7 L667.4 1698.6 L670.0 1702.8 L670.1 1702.8 L672.7 1703.5 L675.0 1704.2 L675.4 1704.0 L678.1 1702.3 L680.8 1702.0 L681.2 1701.2 L683.4 1699.7 L686.1 1703.2 L688.8 1703.6 L690.0 1703.8 L691.5 1702.8 L694.1 1702.7 L695.0 1701.3 L696.8 1700.0 L699.5 1704.5 L700.0 1704.7 L702.2 1703.5 L704.8 1701.3 L707.5 1701.9 L710.2 1700.4 L712.5 1702.0 L712.8 1702.3 L715.5 1701.7 L718.2 1700.4 L720.9 1699.4 L721.2 1699.4 L723.5 1698.2 L726.2 1696.9 L728.9 1695.1 L730.0 1694.4 L731.6 1693.9 L734.2 1693.6 L736.9 1693.4 L739.6 1692.6 L742.3 1691.9 L742.5 1691.9 L744.9 1689.2 L747.5 1689.7 L747.6 1689.8 L750.3 1685.9 L753.0 1686.1 L755.6 1687.1 L758.3 1686.2 L761.0 1686.7 L761.2 1686.7 L763.7 1687.7 L766.3 1688.8 L769.0 1689.1 L770.0 1688.8 L771.7 1686.7 L774.3 1686.8 L777.0 1682.5 L777.5 1682.4 L779.7 1685.5 L782.4 1687.4 L785.0 1689.1 L785.0 1689.1 L787.7 1691.0 L790.4 1690.7 L792.5 1691.9 L793.1 1692.3 L795.7 1690.5 L798.4 1693.0 L800.0 1693.1 L801.1 1692.4 L803.8 1690.7 L806.4 1688.0 L809.1 1687.7 L811.8 1685.2 L812.5 1684.7 L814.5 1684.6 L817.1 1689.7 L819.8 1687.9 L822.5 1688.9 L825.0 1687.2 L825.2 1687.1 L827.8 1687.2 L830.5 1686.3 L832.5 1685.6 L833.2 1685.2 L835.9 1683.1 L838.5 1681.4 L841.2 1678.2 L841.2 1678.2 L843.9 1682.3 L846.5 1683.9 L848.8 1685.9 L849.2 1685.9 L851.9 1684.1 L854.6 1685.4 L857.2 1682.9 L859.9 1681.6 L861.2 1682.4 L862.6 1684.1 L865.3 1684.4 L867.9 1685.2 L870.0 1687.3 L870.6 1687.7 L873.3 1688.8 L876.0 1688.9 L876.2 1689.0 L878.6 1688.6 L881.2 1691.1 L881.3 1691.2 L884.0 1689.4 L886.7 1691.2 L889.3 1689.2 L890.0 1690.0 L892.0 1692.0 L894.7 1693.0 L897.4 1692.6 L897.5 1692.6 L900.0 1688.7 L902.7 1686.1 L905.0 1682.3 L905.4 1682.5 L908.0 1684.5 L910.7 1688.3 L912.5 1689.9 L913.4 1690.5 L916.1 1691.2 L918.7 1692.1 L918.8 1692.1 L921.4 1690.2 L924.1 1687.6 L926.8 1684.6 L928.8 1681.2 L929.4 1681.0 L932.1 1683.3 L934.8 1685.1 L936.2 1686.0 L937.5 1685.8 L940.1 1685.6 L942.8 1684.9 L945.0 1683.0 L945.5 1682.6 L948.2 1682.4 L950.8 1681.4 L953.5 1683.5 L956.2 1681.4 L956.2 1681.4 L958.9 1678.0 L961.5 1674.6 L964.2 1669.6 L965.0 1668.2 L966.9 1666.9 L969.6 1666.4 L972.2 1665.5 L973.8 1665.7 L974.9 1665.8 L977.6 1663.9 L978.8 1662.5 L980.2 1662.1 L982.9 1664.8 L985.0 1665.6 L985.6 1665.4 L988.3 1662.6 L990.9 1662.4 L993.6 1659.6 L993.8 1659.7 L996.3 1661.2 L999.0 1660.2 L1001.6 1658.9 L1002.5 1659.0 L1004.3 1658.8 L1007.0 1658.7 L1009.7 1657.1 L1010.0 1657.1 L1012.3 1661.0 L1015.0 1664.9 L1017.7 1667.3 L1020.0 1670.9 L1020.4 1670.8 L1023.0 1671.4 L1025.7 1667.9 L1026.2 1667.4 L1028.4 1668.1 L1031.1 1670.6 L1033.7 1671.0 L1036.2 1674.6 L1036.4 1674.8 L1039.1 1673.7 L1041.7 1674.0 L1044.4 1673.5 L1046.2 1673.0 L1047.1 1672.1 L1049.8 1670.4 L1052.4 1667.4 L1055.0 1664.4 L1055.1 1664.4 L1057.8 1664.3 L1060.5 1665.0 L1062.0 1664.0 L1063.1 1663.2 L1065.8 1666.8 L1068.2 1663.7 L1068.5 1663.2 L1071.2 1662.2 L1073.8 1658.6 L1075.8 1656.4 L1076.5 1656.4 L1079.2 1659.0 L1081.9 1659.7 L1082.0 1659.7 L1084.5 1658.0 L1087.0 1656.7 L1087.2 1656.7 L1089.9 1655.3 L1092.6 1655.8 L1095.2 1655.5 L1095.8 1655.3 L1097.9 1656.0 L1100.6 1657.6 L1102.0 1658.9 L1103.3 1658.9 L1105.9 1657.8 L1107.0 1657.6 L1108.6 1659.2 L1111.3 1659.6 L1113.9 1664.5 L1115.8 1666.5 L1116.6 1666.5 L1119.3 1665.6 L1120.8 1665.6 L1122.0 1665.0 L1124.6 1664.6 L1127.3 1661.2 L1128.2 1660.8 L1130.0 1661.3 L1132.7 1660.3 L1134.5 1660.5 L1135.3 1660.1 L1138.0 1659.4 L1140.7 1657.9 L1140.8 1657.9 L1143.4 1660.3 L1146.0 1661.1 L1147.0 1661.9 L1148.7 1661.1 L1151.4 1657.9 L1152.0 1657.4 L1154.1 1653.7 L1156.7 1649.9 L1157.0 1649.4 L1159.4 1648.2 L1162.1 1647.7 L1164.5 1646.9 L1164.8 1646.6 L1167.4 1643.7 L1170.1 1641.7 L1170.8 1641.0 L1172.8 1640.4 L1175.4 1638.8 L1175.8 1638.5 L1178.1 1638.3 L1180.8 1640.7 L1183.2 1638.8 L1183.5 1638.8 L1186.1 1640.3 L1188.8 1644.3 L1189.5 1644.7 L1191.5 1645.0 L1194.2 1645.5 L1196.8 1646.2 L1197.0 1646.2 L1199.5 1643.5 L1202.0 1642.7 L1202.2 1642.8 L1204.9 1646.8 L1207.5 1648.4 L1209.5 1648.5 L1210.2 1648.3 L1212.9 1651.3 L1215.6 1649.3 L1218.2 1650.4 L1219.5 1651.1 L1220.9 1652.7 L1223.6 1653.6 L1226.3 1656.4 L1227.0 1657.1 L1228.9 1657.0 L1231.6 1656.2 L1233.2 1656.6 L1234.3 1654.8 L1237.0 1648.6 L1237.0 1648.5 L1239.6 1644.7 L1242.3 1642.7 L1243.2 1642.2 L1245.0 1637.9 L1247.6 1630.3 L1248.2 1628.5 L1250.3 1627.5 L1253.0 1627.9 L1253.2 1627.9 L1255.7 1629.0 L1258.3 1628.6 L1259.5 1629.5 L1261.0 1629.0 L1262.0 1627.4 L1263.7 1626.7 L1266.4 1627.8 L1267.0 1628.5 L1269.0 1629.1 L1271.7 1626.7 L1274.4 1625.4 L1274.5 1625.4 L1277.1 1625.1 L1279.5 1623.9 L1279.7 1623.6 L1282.4 1621.8 L1285.1 1617.4 L1285.8 1616.9 L1287.8 1618.7 L1289.5 1621.7 L1290.4 1623.9 L1293.1 1624.3 L1295.8 1625.6 L1297.0 1628.1 L1298.5 1630.5 L1301.1 1632.5 L1303.2 1634.8 L1303.8 1634.8 L1306.5 1632.6 L1309.1 1630.8 L1309.5 1630.9 L1311.8 1629.0 L1314.5 1624.4 L1314.5 1624.4 L1317.2 1621.4 L1319.8 1622.9 L1322.5 1621.2 L1323.2 1621.4 L1325.2 1622.8 L1327.9 1622.2 L1330.5 1624.0 L1332.0 1624.2 L1333.2 1625.1 L1335.9 1628.2 L1338.6 1630.3 L1340.8 1632.2 L1341.2 1632.0 L1343.9 1631.5 L1346.6 1631.1 L1348.2 1630.4 L1349.3 1630.6 L1351.9 1632.2 L1354.6 1631.7 L1357.3 1632.4 L1360.0 1634.2 L1360.8 1633.8 L1362.6 1631.8 L1365.3 1631.2 L1367.0 1629.8 L1368.0 1629.7 L1370.7 1630.8 L1373.2 1632.7 L1373.3 1632.7 L1376.0 1629.5 L1378.2 1628.6 L1378.7 1628.6 L1381.3 1624.7 L1384.0 1622.8 L1385.8 1622.7 L1386.7 1622.4 L1389.4 1618.5 L1392.0 1619.6 L1394.5 1616.2 L1394.7 1616.2 L1397.4 1615.3 L1400.1 1617.6 L1402.7 1618.6 L1404.5 1620.1 L1405.4 1619.9 L1408.1 1618.2 L1410.8 1617.7 L1412.0 1617.3 L1413.4 1616.9 L1416.1 1614.0 L1418.8 1611.8 L1419.5 1611.9 L1421.5 1614.5 L1424.1 1615.8 L1424.5 1616.3 L1426.8 1613.8 L1429.5 1608.6 L1432.0 1605.7 L1432.2 1605.7 L1434.8 1605.1 L1437.5 1604.5 L1439.5 1604.2 L1440.2 1604.2 L1442.8 1605.8 L1445.5 1608.0 L1448.2 1607.0 L1448.2 1607.0 L1450.9 1602.5 L1453.5 1599.6 L1456.2 1595.4 L1458.2 1591.6 L1458.9 1591.2 L1461.6 1591.8 L1464.2 1592.2 L1466.9 1589.7 L1467.0 1589.7 L1469.6 1586.4 L1472.3 1585.2 L1474.9 1583.7 L1477.6 1580.2 L1478.2 1579.6 L1480.3 1581.3 L1483.0 1584.6 L1484.5 1585.5 L1485.6 1584.7 L1488.3 1582.8 L1491.0 1580.8 L1493.2 1580.1 L1493.7 1579.8 L1496.3 1577.3 L1499.0 1576.0 L1500.8 1573.5 L1501.7 1570.5 L1504.4 1565.5 L1504.5 1565.1 L1507.0 1562.0 L1509.7 1559.5 L1512.4 1558.6 L1514.5 1554.9 L1515.0 1554.1 L1517.7 1553.9 L1520.4 1552.7 L1523.1 1552.7 L1524.5 1551.4 L1525.7 1550.3 L1528.4 1550.9 L1531.1 1548.1 L1533.8 1547.8 L1536.4 1545.6 L1538.2 1546.0 L1539.1 1546.4 L1541.8 1544.6 L1544.5 1544.7 L1547.0 1543.4 L1547.1 1543.2 L1549.8 1540.8 L1552.5 1539.6 L1555.2 1538.9 L1555.8 1538.1 L1557.8 1533.5 L1560.5 1529.0 L1563.2 1526.1 L1563.2 1526.0 L1565.9 1527.3 L1568.5 1526.0 L1571.2 1526.8 L1573.2 1527.5 L1573.9 1527.6 L1576.5 1526.7 L1579.2 1526.8 L1580.8 1527.0 L1581.9 1526.9 L1584.6 1525.0 L1587.2 1524.0 L1588.2 1524.0 L1589.9 1522.1 L1592.6 1517.6 L1594.5 1514.4 L1595.3 1514.1 L1597.9 1514.1 L1600.6 1514.0 L1602.0 1515.4 L1603.3 1515.6 L1606.0 1511.6 L1608.6 1509.8 L1610.8 1508.1 L1611.3 1509.5 L1614.0 1514.5 L1616.7 1522.4 L1619.3 1527.8 L1619.5 1528.2 L1622.0 1527.4 L1624.7 1529.6 L1625.8 1529.5 L1627.4 1527.2 L1630.0 1524.9 L1632.7 1522.6 L1635.4 1521.4 L1637.0 1518.0 L1638.1 1516.0 L1640.7 1513.6 L1643.4 1511.4 L1644.5 1510.3 L1646.1 1509.5 L1648.7 1508.2 L1650.8 1506.7 L1651.4 1505.6 L1654.1 1501.8 L1656.8 1498.6 L1659.4 1493.9 L1662.0 1490.6 L1662.1 1490.6 L1664.8 1489.2 L1667.5 1490.4 L1669.5 1488.0 L1670.1 1486.3 L1672.8 1484.7 L1674.5 1480.3 L1675.5 1473.4 L1677.5 1460.7 L1678.2 1459.4 L1680.8 1454.6 L1682.5 1452.8 L1683.5 1450.6 L1686.2 1443.4 L1688.8 1434.6 L1688.9 1433.9 L1691.2 1421.7 L1691.5 1420.4 L1693.8 1408.9 L1694.2 1407.8 L1696.9 1401.5 L1697.5 1400.1 L1699.6 1400.4 L1702.2 1400.9 L1702.5 1400.7 L1704.9 1395.8 L1706.2 1394.1 L1707.6 1393.1 L1710.2 1393.6 L1711.2 1392.8 L1712.9 1388.6 L1715.0 1384.0 L1715.6 1384.5 L1718.3 1383.9 L1720.0 1385.4 L1720.9 1383.6 L1723.6 1380.3 L1725.0 1376.1 L1726.3 1369.9 L1727.5 1366.0 L1729.0 1364.3 L1731.6 1358.5 L1732.5 1357.1 L1734.3 1353.1 L1736.2 1348.0 L1737.0 1346.3 L1738.8 1344.3 L1739.7 1344.6 L1742.3 1340.5 L1743.8 1340.1 L1745.0 1339.8 L1746.2 1339.3 L1747.7 1342.3 L1750.0 1348.6 L1750.4 1346.5 L1752.5 1331.9 L1753.0 1323.2 L1754.5 1300.1 L1755.7 1287.6 L1756.6 1277.8 L1758.4 1260.0 L1758.8 1255.9 L1759.9 1217.2 L1760.9 1191.4 L1761.1 1191.3 L1763.7 1188.9 L1764.2 1188.6 L1765.7 1169.7 L1766.4 1171.0 L1769.1 1173.5 L1769.6 1173.9 L1771.8 1158.1 L1772.8 1152.0 L1774.4 1152.6 L1777.1 1150.4 L1777.1 1150.3 L1779.8 1135.1 L1780.3 1132.2 L1782.4 1132.3 L1784.7 1131.2 L1785.1 1132.5 L1787.8 1143.2 L1787.9 1143.4 L1790.5 1132.7 L1791.1 1130.2 L1793.1 1108.8 L1793.3 1107.6 L1795.4 1066.2 L1795.8 1060.7 L1797.6 1033.5 L1798.5 1031.4 L1801.2 1028.1 L1801.5 1027.4 L1803.8 1028.8 L1805.1 1029.3 L1806.5 1030.5 L1808.8 1035.0 L1809.2 1038.7 L1810.5 1050.4 L1811.4 1069.6 L1811.9 1076.0 L1812.7 1086.9 L1814.5 1096.4 L1814.8 1097.9 L1817.2 1101.9 L1817.4 1102.2 L1819.1 1075.5 L1819.9 1052.8 L1820.2 1043.1 L1821.3 1011.6 L1822.4 980.0 L1822.6 967.7 L1823.0 938.0 L1825.0 887.3 L1825.2 881.4 L1827.0 837.2 L1827.9 811.3 L1828.8 787.7 L1830.5 738.6 L1830.5 692.6 L1830.6 690.6 L1832.0 643.2 L1833.3 607.9 L1833.8 593.3 L1835.9 552.2 L1836.2 546.7 L1838.6 519.7 L1839.5 507.5 L1841.2 470.2 L1841.3 469.7 L1843.0 441.7 L1843.9 435.4 L1845.0 427.1 L1846.6 424.9 L1848.8 423.1 L1849.3 426.2 L1851.2 436.3 L1852.0 444.1 L1852.5 449.9 L1854.6 438.4 L1855.0 436.5 L1857.3 418.2 L1857.5 416.7 L1859.5 381.7 L1860.0 377.5 L1861.2 367.0 L1861.4 367.0 L1862.7 357.9 L1863.9 350.1 L1865.3 342.7 L1867.0 331.8 L1868.0 326.0 L1868.9 322.1 L1870.7 321.0 L1870.8 320.9 L1873.3 321.0 L1873.4 321.3 L1875.5 329.2 L1876.0 336.2 L1876.8 347.6 L1877.8 367.0 L1877.8 397.1 L1878.7 422.3 L1879.5 442.5 L1881.2 485.9 L1881.4 487.7 L1883.8 521.3 L1884.1 530.0 L1885.0 556.6 L1886.2 591.9 L1886.7 605.6 L1887.5 627.2 L1889.4 654.5 L1890.0 662.7 L1892.1 691.4 L1892.5 697.5 L1894.8 714.5 L1895.0 716.0 L1897.4 721.6 L1897.5 721.8 L1899.5 736.4 L1900.1 737.7 L1902.5 745.4 L1902.8 746.6 L1905.5 755.4 L1906.2 757.9 L1908.1 764.8 L1910.0 772.6 L1910.8 779.1 L1912.5 792.6 L1913.5 799.0 L1916.1 818.9 L1916.2 819.5 L1918.8 831.2 L1920.0 837.1 L1921.5 844.2 L1922.5 849.8 L1924.2 853.0 L1926.2 854.3 L1926.8 855.8 L1929.5 866.8 L1930.0 868.4 L1932.2 875.7 L1933.8 880.2 L1934.9 888.7 L1936.2 899.9 L1937.5 914.2 L1938.8 927.5 L1940.2 941.1 L1942.5 964.2 L1942.9 967.9 L1945.6 990.9 L1947.5 1007.3 L1948.2 1013.8 L1950.9 1038.7 L1951.2 1042.0 L1953.6 1066.3 L1953.8 1067.9 L1956.2 1088.0 L1956.3 1088.0 L1958.8 1097.4 L1958.9 1098.1 L1961.2 1108.9 L1961.6 1111.2 L1962.5 1116.6 L1964.3 1125.2 L1965.0 1129.1 L1967.0 1132.6 L1968.8 1134.6 L1969.6 1139.1 L1972.3 1152.9 L1972.5 1153.9 L1975.0 1176.4 L1975.0 1176.6 L1977.6 1198.7 L1978.8 1208.9 L1980.3 1222.4 L1982.5 1239.4 L1983.0 1240.7 L1985.7 1247.1 L1986.2 1248.7 L1988.3 1261.7 L1988.8 1264.0 L1991.0 1268.1 L1991.2 1268.8 L1993.7 1266.4 L1995.0 1262.4 L1996.4 1262.5 L1998.8 1265.6 L1999.0 1266.5 L2001.7 1273.7 L2003.8 1278.5 L2004.4 1280.2 L2007.1 1288.9 L2009.7 1296.7 L2010.0 1297.5 L2012.4 1320.9 L2012.5 1321.7 L2015.1 1335.5 L2016.2 1341.9 L2017.2 1348.2 L2017.8 1347.7 L2020.4 1345.1 L2023.1 1341.3 L2023.6 1340.8 L2025.8 1337.7 L2027.6 1335.0 L2028.5 1335.7 L2031.1 1337.7 L2032.5 1338.4 L2033.8 1338.6 L2036.5 1341.8 L2038.1 1342.2 L2039.2 1345.8 L2040.5 1350.7 L2041.8 1355.9 L2042.9 1359.8 L2044.5 1361.5 L2047.0 1365.6 L2047.2 1366.3 L2049.4 1372.9 L2049.8 1373.2 L2052.5 1378.1 L2054.2 1380.2 L2055.2 1381.8 L2057.9 1385.5 L2058.2 1385.9 L2060.5 1385.8 L2063.1 1385.4 L2063.2 1385.8 L2065.5 1393.4 L2065.9 1393.1 L2068.6 1390.4 L2069.5 1389.7 L2071.1 1382.1 L2071.2 1382.1 L2073.9 1382.7 L2075.1 1382.5 L2076.6 1384.2 L2079.3 1388.4 L2080.0 1389.6 L2081.9 1396.0 L2084.0 1402.0 L2084.6 1401.6 L2087.3 1399.4 L2090.0 1395.9 L2090.4 1395.8 L2092.6 1387.4 L2092.9 1386.6 L2095.3 1386.4 L2098.0 1384.3 L2098.5 1384.1 L2100.7 1386.9 L2103.3 1388.4 L2103.3 1388.4 L2106.0 1392.5 L2107.3 1394.7 L2108.7 1393.7 L2111.3 1390.9 L2111.4 1390.9 L2114.0 1392.9 L2116.2 1395.2 L2116.7 1395.7 L2119.4 1398.3 L2122.0 1400.7 L2122.6 1400.6 L2124.7 1406.4 L2126.7 1414.5 L2127.4 1415.6 L2130.1 1418.4 L2131.5 1419.8 L2132.7 1420.5 L2135.4 1420.9 L2137.1 1423.5 L2138.1 1425.0 L2140.8 1424.2 L2142.0 1425.3 L2143.4 1428.0 L2146.1 1429.8 L2146.8 1431.3 L2148.8 1441.8 L2149.2 1443.8 L2151.5 1446.7 L2153.2 1448.4 L2154.1 1450.2 L2156.8 1457.6 L2157.3 1458.9 L2159.5 1460.1 L2162.2 1457.2 L2162.9 1457.2 L2164.8 1459.1 L2167.5 1464.1 L2167.7 1464.3 L2170.2 1460.8 L2172.6 1457.7 L2172.9 1457.4 L2175.5 1454.7 L2178.2 1454.6 L2178.2 1454.6 L2180.9 1448.7 L2181.4 1447.9 L2183.5 1447.7 L2186.2 1444.0 L2188.7 1443.2 L2188.9 1443.7 L2191.6 1448.5 L2193.5 1452.1 L2194.2 1453.0 L2196.9 1457.2 L2198.3 1458.8 L2199.6 1459.5 L2202.3 1460.0 L2203.2 1460.7 L2204.9 1464.3 L2207.6 1469.1 L2208.0 1469.9 L2210.3 1464.7 L2212.8 1457.0 L2213.0 1456.7 L2215.6 1451.3 L2218.3 1447.4 L2218.5 1447.2 L2221.0 1450.2 L2223.7 1454.1 L2225.7 1456.6 L2226.3 1457.4 L2229.0 1460.3 L2231.7 1462.4 L2233.8 1464.1 L2234.4 1464.0 L2237.0 1465.3 L2239.7 1465.0 L2240.2 1464.9 L2242.4 1465.4 L2245.0 1467.0 L2245.0 1467.0 L2247.7 1465.8 L2250.4 1464.9 L2251.5 1463.7 L2253.1 1462.4 L2255.7 1461.0 L2257.9 1462.0 L2258.4 1462.0 L2261.1 1458.4 L2263.5 1457.9 L2263.8 1458.8 L2266.0 1464.5 L2266.4 1464.4 L2269.1 1466.2 L2270.8 1466.4 L2271.8 1470.2 L2274.5 1484.9 L2274.8 1486.0 L2277.1 1488.7 L2278.8 1492.4 L2279.8 1493.1 L2282.5 1494.5 L2283.7 1495.4 L2285.2 1494.4 L2287.8 1493.4 L2290.1 1491.1 L2290.5 1491.5 L2293.2 1494.5 L2294.9 1497.3 L2295.9 1499.9 L2298.2 1503.7 L2298.5 1504.0 L2300.6 1509.1 L2301.2 1512.3 L2303.0 1520.1 L2303.9 1519.8 L2306.0 1516.8 L2306.6 1516.4 L2309.2 1518.8 L2311.9 1518.3 L2313.5 1518.4 L2314.6 1519.4 L2317.2 1523.7 L2319.8 1527.9 L2319.9 1528.0 L2322.6 1529.3 L2325.3 1529.4 L2326.0 1529.5 L2327.9 1527.8 L2330.6 1526.3 L2332.2 1524.9 L2333.3 1527.0 L2336.0 1532.8 L2338.5 1536.6 L2338.6 1536.8 L2341.3 1542.5 L2344.0 1546.3 L2344.8 1548.0 L2346.7 1550.8 L2349.3 1551.4 L2352.0 1552.5 L2353.5 1553.7 L2354.7 1554.7 L2357.4 1557.0 L2360.0 1558.1 L2362.2 1558.8 L2362.7 1558.5 L2365.4 1559.3 L2368.1 1559.3 L2368.5 1559.3 L2370.7 1558.1 L2373.4 1555.6 L2373.5 1555.6 L2376.1 1559.0 L2378.7 1563.3 L2379.8 1564.8 L2381.4 1566.5 L2384.1 1569.2 L2386.8 1570.8 L2388.5 1572.7 L2389.4 1573.1 L2392.1 1572.3 L2394.8 1574.4 L2394.8 1574.4 L2397.5 1571.2 L2400.1 1567.5 L2401.0 1567.1 L2402.8 1568.7 L2405.5 1570.3 L2406.0 1570.4 L2408.2 1566.8 L2410.8 1564.9 L2412.2 1562.6 L2413.5 1562.1 L2416.2 1562.6 L2418.5 1561.3 L2418.9 1561.4 L2421.5 1565.0 L2424.2 1567.8 L2426.0 1568.7 L2426.9 1570.1 L2429.6 1575.7 L2429.8 1576.0 L2432.2 1574.2 L2434.9 1573.4 L2436.0 1572.7 L2437.6 1571.9 L2440.3 1571.2 L2442.2 1570.1 L2442.9 1569.9 L2445.6 1568.6 L2448.3 1568.5 L2450.9 1569.1 L2451.0 1569.1 L2453.6 1573.1 L2456.3 1578.1 L2458.5 1579.7 L2459.0 1579.8 L2461.6 1580.3 L2464.3 1580.8 L2466.0 1583.3 L2467.0 1583.8 L2469.7 1582.1 L2472.3 1579.8 L2475.0 1580.5 L2477.2 1578.9 L2477.7 1578.8 L2480.4 1578.8 L2483.0 1577.8 L2485.7 1580.8 L2486.0 1580.8 L2488.4 1580.3 L2491.1 1580.4 L2493.7 1580.1 L2496.0 1580.8 L2496.4 1580.7 L2499.1 1581.1 L2501.8 1579.4 L2502.2 1579.5 L2504.4 1581.2 L2507.1 1581.3 L2509.8 1581.5 L2512.2 1582.8 L2512.4 1582.5 L2515.1 1577.4 L2517.2 1572.7 L2517.8 1573.2 L2520.5 1577.5 L2523.1 1581.9 L2524.8 1583.4 L2525.8 1584.3 L2528.5 1588.3 L2531.2 1591.2 L2532.2 1593.7 L2533.8 1596.5 L2536.5 1596.0 L2538.5 1597.7 L2539.2 1597.5 L2541.9 1596.6 L2544.5 1597.2 L2544.8 1597.1 L2547.2 1598.9 L2549.9 1599.2 L2552.2 1601.6 L2552.6 1602.2 L2555.2 1604.6 L2557.9 1609.2 L2558.5 1610.5 L2560.6 1613.9 L2563.3 1614.4 L2563.5 1614.5 L2565.9 1611.9 L2568.5 1608.8 L2568.6 1609.0 L2571.3 1616.0 L2573.5 1620.2 L2574.0 1620.0 L2576.6 1618.8 L2579.3 1621.0 L2582.0 1620.6 L2582.2 1620.5 L2584.6 1622.8 L2587.3 1626.4 L2590.0 1626.9 L2591.0 1629.0 L2592.7 1629.2 L2595.3 1624.5 L2597.2 1623.7 L2598.0 1624.3 L2600.7 1625.1 L2603.4 1626.5 L2606.0 1628.0 L2606.0 1628.0 L2608.7 1623.8 L2611.4 1620.5 L2612.2 1619.4 L2614.1 1615.7 L2616.7 1612.2 L2618.5 1608.3 L2619.4 1608.3 L2622.1 1608.7 L2624.8 1610.7 L2626.0 1611.4 L2627.4 1609.8 L2630.1 1605.2 L2632.2 1601.7 L2632.8 1601.3 L2635.5 1601.3 L2638.1 1599.0 L2638.5 1598.8 L2640.8 1596.8 L2643.5 1597.3 L2644.8 1595.8 L2646.1 1597.2 L2648.8 1602.5 L2651.0 1603.0 L2651.5 1602.5 L2654.2 1605.1 L2656.8 1604.3 L2659.5 1607.2 L2661.0 1606.0 L2662.2 1605.7 L2664.9 1607.4 L2667.5 1610.1 L2669.8 1611.5 L2670.2 1612.0 L2672.9 1614.4 L2675.6 1618.7 L2678.2 1621.6 L2678.5 1621.9 L2680.9 1622.4 L2683.6 1622.5 L2686.0 1622.0 L2686.3 1622.0 L2688.9 1623.3 L2691.6 1625.8 L2694.3 1625.8 L2696.0 1628.2 L2697.0 1628.9 L2699.6 1626.9 L2702.3 1625.7 L2703.5 1626.3 L2705.0 1628.2 L2707.7 1629.2 L2710.3 1632.2 L2712.2 1632.9 L2713.0 1633.1 L2715.7 1636.0 L2718.3 1635.6 L2721.0 1635.5 L2721.0 1635.5 L2723.7 1635.7 L2726.4 1635.1 L2728.5 1636.4 L2729.0 1637.3 L2731.7 1641.1 L2734.4 1642.0 L2736.0 1643.0 L2737.1 1643.6 L2739.7 1648.1 L2742.4 1650.6 L2744.8 1652.3 L2745.1 1652.3 L2747.8 1654.0 L2750.4 1654.6 L2753.1 1654.6 L2754.8 1656.2 L2755.8 1656.3 L2758.5 1653.7 L2761.1 1651.7 L2763.5 1651.0 L2763.8 1651.1 L2766.5 1653.2 L2769.2 1654.0 L2771.0 1653.9 L2771.8 1653.5 L2774.5 1651.1 L2777.2 1649.9 L2778.5 1650.2 L2779.8 1651.4 L2782.5 1652.1 L2785.2 1653.5 L2786.0 1653.5 L2787.9 1651.9 L2790.5 1651.0 L2793.2 1649.7 L2793.5 1649.7 L2795.9 1651.8 L2798.6 1652.8 L2801.0 1652.0 L2801.2 1651.7 L2803.9 1651.3 L2806.6 1649.7 L2807.2 1649.0 L2809.3 1649.1 L2811.9 1651.1 L2814.6 1653.2 L2814.8 1653.1 L2817.3 1649.7 L2820.0 1649.7 L2822.6 1646.4 L2824.8 1645.0 L2825.3 1645.3 L2828.0 1646.4 L2830.7 1646.6 L2832.2 1648.4 L2833.3 1649.5 L2836.0 1650.4 L2838.7 1651.1 L2841.0 1652.3 L2841.4 1652.3 L2844.0 1652.9 L2846.0 1652.5 L2846.7 1652.2 L2849.4 1651.2 L2852.0 1651.1 L2854.7 1651.0 L2856.0 1650.4 L2857.4 1650.5 L2860.1 1650.6 L2862.7 1653.0 L2863.5 1653.0 L2865.4 1651.6 L2868.1 1651.5 L2870.8 1649.9 L2871.0 1649.8 L2873.4 1651.2 L2876.1 1653.1 L2878.5 1655.4 L2878.8 1655.9 L2881.5 1660.5 L2883.5 1662.2 L2884.1 1661.9 L2886.8 1664.9 L2889.5 1666.1 L2891.0 1665.8 L2892.2 1664.9 L2894.8 1663.2 L2897.5 1661.8 L2898.5 1662.1 L2900.2 1664.5 L2902.9 1666.7 L2905.5 1668.4 L2906.0 1668.9 L2908.2 1671.6 L2910.9 1673.0 L2913.5 1676.1 L2916.0 1679.0 L2916.2 1679.3 L2918.9 1681.9 L2921.6 1685.7 L2923.5 1687.9 L2924.2 1687.7 L2926.9 1686.1 L2929.6 1684.6 L2931.0 1684.2 L2932.3 1684.7 L2934.9 1687.1 L2937.6 1685.8 L2939.8 1687.3 L2940.3 1688.0 L2943.0 1689.3 L2945.6 1694.5 L2947.2 1694.2 L2948.3 1694.1 L2951.0 1697.7 L2953.7 1698.6 L2954.8 1701.2 L2956.3 1703.2 L2959.0 1698.7 L2961.7 1699.9 L2962.2 1699.5 L2964.4 1694.4 L2966.0 1692.5 L2967.0 1692.4 L2969.7 1688.3 L2972.4 1686.8 L2973.5 1685.4 L2975.1 1684.3 L2977.7 1684.5 L2980.4 1684.0 L2981.0 1684.1 L2983.1 1687.0 L2985.7 1685.5 L2987.2 1688.1 L2988.4 1689.4 L2991.1 1689.3 L2993.8 1689.1 L2996.0 1689.7 L2996.4 1689.5 L2999.1 1687.9 L3001.8 1685.3 L3002.2 1685.0 L3004.5 1682.2 L3007.1 1678.2 L3007.2 1678.1 L3009.8 1679.0 L3012.2 1680.4 L3012.5 1680.6 L3015.2 1680.9 L3017.8 1682.9 L3018.5 1683.4 L3020.5 1687.0 L3023.2 1691.5 L3024.8 1694.1 L3025.9 1694.6 L3028.5 1695.2 L3031.2 1694.7 L3032.2 1696.2 L3033.9 1697.0 L3036.6 1696.0 L3039.2 1695.1 L3039.8 1694.7 L3041.9 1695.3 L3044.6 1697.4 L3046.0 1697.7 L3047.2 1696.7 L3049.9 1694.9 L3052.2 1694.7 L3052.6 1695.1 L3055.3 1697.0 L3057.9 1700.2 L3060.6 1702.0 L3062.2 1702.5 L3063.3 1701.5 L3066.0 1700.3 L3068.6 1699.3 L3069.8 1698.7 L3071.3 1698.1 L3074.0 1698.2 L3076.7 1695.3 L3077.2 1695.4 L3079.3 1697.5 L3082.0 1696.3 L3084.7 1698.1 L3084.8 1698.2 L3087.4 1698.0 L3089.8 1695.0 L3090.0 1694.9 L3092.7 1695.0 L3095.4 1695.8 L3097.2 1695.5 L3098.1 1695.9 L3100.7 1698.0 L3103.4 1700.1 L3103.5 1700.2 L3106.1 1700.8 L3108.8 1701.5 L3111.4 1701.2 L3114.1 1702.7 L3114.8 1702.6" stroke="#ff0000"/>
<path d="M440.0 1781.4 L440.1 1781.4 L442.8 1782.1 L443.8 1782.1 L445.4 1782.3 L448.1 1782.6 L450.8 1782.6 L453.5 1783.0 L456.1 1783.1 L458.8 1783.0 L461.5 1784.0 L464.2 1784.2 L465.0 1784.4 L466.8 1784.6 L469.5 1783.9 L472.2 1783.7 L474.9 1783.6 L477.5 1783.2 L480.2 1784.0 L482.9 1783.3 L485.6 1783.2 L488.2 1783.5 L490.0 1783.8 L490.9 1783.9 L493.6 1783.0 L496.3 1782.2 L498.9 1781.8 L501.6 1781.9 L504.3 1781.2 L506.9 1780.6 L509.6 1780.3 L512.3 1780.3 L515.0 1780.3 L517.6 1778.7 L520.3 1778.5 L523.0 1778.0 L525.0 1777.3 L525.7 1777.2 L528.3 1778.1 L531.0 1778.4 L533.7 1779.4 L536.4 1779.3 L539.0 1779.1 L541.7 1780.2 L544.4 1780.2 L547.1 1780.0 L549.7 1780.8 L550.0 1780.8 L552.4 1780.6 L555.1 1780.2 L557.8 1780.2 L560.4 1779.2 L563.1 1779.6 L565.8 1779.8 L568.5 1779.5 L570.0 1779.4 L571.1 1779.3 L573.8 1779.1 L576.5 1779.1 L579.1 1778.0 L581.8 1778.5 L584.5 1777.4 L587.2 1777.6 L589.8 1777.0 L592.5 1777.9 L595.2 1777.8 L597.9 1777.1 L600.5 1777.6 L603.2 1776.5 L605.9 1776.7 L607.5 1776.6 L608.6 1776.6 L611.2 1776.5 L613.9 1777.2 L616.6 1778.0 L619.3 1777.2 L621.9 1778.1 L624.6 1778.0 L627.3 1778.9 L630.0 1778.7 L630.0 1778.7 L632.6 1778.9 L635.3 1779.0 L638.0 1779.0 L640.6 1778.6 L643.3 1779.7 L646.0 1778.9 L648.7 1779.6 L651.3 1779.9 L652.5 1779.7 L654.0 1779.3 L656.7 1779.4 L659.4 1779.6 L662.0 1778.9 L664.7 1778.4 L667.4 1777.4 L670.1 1777.9 L672.5 1777.8 L672.7 1777.8 L675.4 1778.1 L678.1 1778.3 L680.8 1779.0 L683.4 1779.0 L686.1 1779.4 L688.8 1780.0 L691.5 1779.8 L694.1 1780.3 L696.8 1781.4 L699.5 1781.2 L700.0 1781.2 L702.2 1780.3 L704.8 1780.5 L707.5 1780.4 L710.2 1780.4 L712.8 1779.8 L715.5 1779.3 L718.2 1778.9 L720.0 1779.1 L720.9 1779.2 L723.5 1779.0 L726.2 1778.6 L728.9 1778.7 L731.6 1778.5 L734.2 1778.8 L736.9 1778.3 L737.5 1778.3 L739.6 1778.3 L742.3 1777.9 L744.9 1777.3 L747.6 1776.3 L750.3 1776.6 L753.0 1775.4 L755.6 1775.2 L757.5 1774.6 L758.3 1774.5 L761.0 1774.1 L763.7 1774.8 L766.3 1774.9 L769.0 1774.7 L771.7 1774.8 L774.3 1774.5 L777.0 1774.5 L777.5 1774.5 L779.7 1774.4 L782.4 1774.8 L785.0 1774.2 L787.7 1773.4 L790.4 1773.4 L792.5 1772.9 L793.1 1772.8 L795.7 1772.8 L798.4 1773.3 L801.1 1772.8 L803.8 1772.4 L806.4 1772.7 L809.1 1773.0 L810.0 1773.0 L811.8 1773.2 L814.5 1773.8 L817.1 1773.4 L819.8 1774.1 L822.5 1774.2 L825.2 1774.3 L827.8 1774.9 L830.0 1774.9 L830.5 1774.9 L833.2 1774.6 L835.9 1775.4 L838.5 1774.7 L841.2 1775.3 L843.9 1775.3 L846.5 1775.6 L847.5 1775.5 L849.2 1775.1 L851.9 1775.1 L854.6 1774.8 L857.2 1775.0 L859.9 1774.2 L862.6 1774.2 L865.0 1773.9 L865.3 1773.9 L867.9 1773.5 L870.6 1774.9 L873.3 1774.0 L876.0 1773.5 L878.6 1774.5 L881.3 1773.6 L884.0 1774.1 L886.7 1774.3 L889.3 1773.8 L890.0 1773.8 L892.0 1773.9 L894.7 1774.0 L897.4 1774.2 L900.0 1773.7 L902.7 1773.9 L905.4 1774.4 L908.0 1774.9 L910.7 1774.8 L913.4 1775.3 L915.0 1775.1 L916.1 1775.0 L918.7 1774.6 L921.4 1774.7 L924.1 1774.0 L926.8 1774.4 L929.4 1774.4 L932.1 1774.8 L934.8 1775.0 L937.5 1774.6 L940.0 1774.5 L940.1 1774.5 L942.8 1774.0 L945.5 1774.4 L948.2 1774.3 L950.8 1774.2 L953.5 1773.6 L956.2 1774.4 L958.9 1774.0 L960.0 1773.7 L961.5 1773.4 L964.2 1773.2 L966.9 1773.2 L969.6 1773.3 L972.2 1773.2 L974.9 1773.3 L977.6 1773.3 L980.0 1773.5 L980.2 1773.4 L982.9 1772.8 L985.6 1771.8 L988.3 1771.4 L990.9 1770.5 L993.6 1769.9 L996.3 1770.2 L999.0 1768.8 L1001.2 1769.1 L1001.6 1769.3 L1004.3 1769.1 L1007.0 1769.9 L1009.7 1770.8 L1010.0 1770.8 L1012.3 1770.1 L1015.0 1769.8 L1017.7 1769.2 L1020.4 1768.7 L1022.5 1768.4 L1023.0 1768.4 L1025.7 1768.2 L1028.4 1768.9 L1031.1 1768.2 L1033.7 1768.8 L1036.4 1767.2 L1039.1 1768.0 L1040.0 1768.1 L1041.7 1768.4 L1044.4 1768.3 L1047.1 1769.1 L1049.8 1769.2 L1050.0 1769.2 L1052.4 1768.6 L1055.1 1768.5 L1057.8 1769.0 L1060.5 1767.8 L1062.0 1767.6 L1063.1 1767.5 L1065.8 1767.1 L1068.5 1767.1 L1071.2 1766.5 L1073.8 1766.7 L1076.5 1767.5 L1079.2 1766.8 L1081.9 1766.5 L1082.0 1766.5 L1084.5 1766.5 L1087.2 1766.5 L1089.9 1765.9 L1092.6 1766.2 L1095.2 1765.7 L1097.9 1765.2 L1099.5 1765.4 L1100.6 1765.3 L1103.3 1763.2 L1105.9 1763.2 L1108.6 1762.8 L1111.3 1761.7 L1113.9 1761.3 L1114.5 1761.2 L1116.6 1760.9 L1119.3 1760.8 L1122.0 1761.8 L1124.6 1760.9 L1127.3 1760.5 L1130.0 1760.8 L1132.7 1760.2 L1135.3 1760.4 L1137.0 1760.2 L1138.0 1760.0 L1140.7 1760.0 L1143.4 1758.5 L1146.0 1758.8 L1148.7 1758.2 L1149.5 1757.9 L1151.4 1757.8 L1154.1 1758.8 L1156.7 1758.3 L1159.4 1759.4 L1162.1 1759.3 L1164.8 1759.6 L1167.0 1759.6 L1167.4 1759.5 L1170.1 1759.4 L1172.8 1758.1 L1175.4 1758.5 L1178.1 1757.9 L1180.8 1757.9 L1183.5 1757.4 L1186.1 1757.3 L1187.0 1757.1 L1188.8 1756.4 L1191.5 1757.0 L1194.2 1756.8 L1196.8 1755.5 L1199.5 1755.2 L1202.2 1754.9 L1204.9 1754.8 L1207.5 1754.7 L1210.2 1753.2 L1212.9 1753.0 L1214.5 1752.7 L1215.6 1752.7 L1218.2 1752.9 L1220.9 1753.0 L1223.6 1753.9 L1226.3 1753.6 L1228.9 1754.8 L1231.6 1754.8 L1234.3 1754.4 L1237.0 1754.6 L1237.0 1754.6 L1239.6 1754.5 L1242.3 1755.0 L1245.0 1753.9 L1247.6 1753.4 L1250.3 1753.7 L1253.0 1753.5 L1255.7 1752.9 L1257.0 1753.2 L1258.3 1753.6 L1261.0 1753.1 L1263.7 1753.2 L1266.4 1752.7 L1269.0 1753.0 L1271.7 1752.9 L1274.4 1752.2 L1277.1 1753.1 L1279.7 1752.4 L1282.4 1753.0 L1285.1 1752.5 L1287.0 1753.4 L1287.8 1753.7 L1290.4 1752.9 L1293.1 1753.0 L1295.8 1752.9 L1298.5 1752.0 L1301.1 1751.5 L1303.8 1752.0 L1306.5 1752.3 L1307.0 1752.3 L1309.1 1752.1 L1311.8 1752.5 L1314.5 1752.6 L1317.2 1751.9 L1319.5 1752.5 L1319.8 1752.5 L1322.5 1752.4 L1325.2 1750.8 L1327.9 1749.6 L1330.5 1749.6 L1333.2 1748.8 L1335.9 1748.4 L1337.0 1748.0 L1338.6 1747.5 L1341.2 1747.4 L1343.9 1746.2 L1346.6 1746.9 L1349.3 1746.7 L1351.9 1746.2 L1354.6 1744.8 L1357.0 1745.0 L1357.3 1745.0 L1360.0 1743.3 L1362.6 1743.8 L1365.3 1743.0 L1368.0 1742.1 L1370.7 1741.9 L1373.3 1741.2 L1376.0 1740.9 L1378.2 1740.1 L1378.7 1740.0 L1381.3 1739.9 L1384.0 1738.9 L1386.7 1739.0 L1389.4 1739.1 L1392.0 1739.2 L1394.7 1738.9 L1397.0 1739.2 L1397.4 1739.2 L1400.1 1738.2 L1402.7 1738.2 L1405.4 1738.1 L1408.1 1737.7 L1410.8 1737.7 L1413.4 1737.1 L1416.1 1737.6 L1417.0 1737.3 L1418.8 1737.1 L1421.5 1737.8 L1424.1 1737.7 L1426.8 1738.5 L1427.0 1738.4 L1429.5 1737.7 L1432.2 1738.6 L1434.8 1738.4 L1437.5 1738.9 L1440.2 1739.4 L1442.8 1738.8 L1445.5 1738.9 L1447.0 1739.1 L1448.2 1739.1 L1450.9 1739.4 L1453.5 1738.6 L1456.2 1739.2 L1458.9 1738.6 L1461.6 1738.6 L1464.2 1738.7 L1466.9 1738.9 L1467.0 1738.9 L1469.6 1738.5 L1472.3 1738.6 L1474.9 1738.7 L1477.6 1738.7 L1480.3 1737.8 L1483.0 1738.6 L1485.6 1738.8 L1488.3 1739.1 L1491.0 1739.5 L1492.0 1739.3 L1493.7 1738.9 L1496.3 1738.4 L1499.0 1737.9 L1501.7 1738.0 L1504.4 1738.1 L1507.0 1738.0 L1509.7 1737.1 L1512.4 1737.2 L1514.5 1737.2 L1515.0 1737.4 L1517.7 1738.1 L1520.4 1737.9 L1523.1 1738.0 L1525.7 1738.4 L1528.4 1738.9 L1531.1 1739.1 L1532.0 1739.4 L1533.8 1739.6 L1536.4 1739.4 L1539.1 1739.0 L1541.8 1738.9 L1544.5 1738.1 L1547.1 1738.1 L1549.8 1737.6 L1552.0 1737.5 L1552.5 1737.5 L1555.2 1737.9 L1557.8 1737.5 L1560.5 1736.8 L1563.2 1737.4 L1565.9 1737.3 L1568.5 1737.0 L1571.2 1737.2 L1572.0 1737.4 L1573.9 1737.3 L1576.5 1736.8 L1579.2 1735.3 L1581.9 1735.0 L1584.6 1734.3 L1587.2 1732.7 L1589.5 1732.4 L1589.9 1732.4 L1592.6 1731.8 L1595.3 1731.3 L1597.9 1730.2 L1600.6 1730.0 L1603.3 1730.0 L1606.0 1729.5 L1608.6 1729.1 L1610.8 1728.0 L1611.3 1728.0 L1614.0 1729.1 L1616.7 1729.1 L1619.3 1728.8 L1622.0 1729.9 L1624.5 1729.9 L1624.7 1729.9 L1627.4 1730.1 L1630.0 1729.8 L1632.7 1730.1 L1635.4 1729.7 L1638.1 1729.4 L1639.5 1729.6 L1640.7 1730.0 L1643.4 1730.1 L1646.1 1730.3 L1648.7 1731.2 L1651.4 1731.0 L1652.0 1731.1 L1654.1 1730.7 L1656.8 1730.3 L1659.4 1729.5 L1662.1 1729.4 L1664.8 1729.8 L1667.0 1728.6 L1667.5 1728.3 L1670.1 1727.7 L1672.8 1726.5 L1675.5 1725.8 L1677.0 1725.7 L1678.2 1725.9 L1680.8 1725.3 L1683.5 1724.4 L1684.0 1724.3 L1686.2 1723.7 L1688.9 1722.3 L1691.5 1721.3 L1694.2 1720.3 L1696.9 1719.2 L1699.0 1718.8 L1699.6 1718.6 L1702.2 1717.2 L1704.9 1715.6 L1707.6 1713.9 L1710.2 1712.0 L1710.2 1712.0 L1712.9 1712.7 L1715.6 1712.7 L1718.3 1713.5 L1720.9 1713.7 L1723.6 1714.0 L1724.0 1714.0 L1726.3 1713.5 L1729.0 1712.8 L1731.6 1713.7 L1734.3 1713.6 L1737.0 1712.5 L1737.8 1712.6 L1739.7 1713.7 L1742.3 1715.1 L1745.0 1715.2 L1747.7 1717.2 L1750.2 1717.4 L1750.4 1717.3 L1753.0 1714.9 L1755.7 1713.6 L1756.5 1712.9 L1757.8 1701.4 L1758.4 1700.9 L1761.1 1698.5 L1762.8 1697.6 L1763.7 1694.9 L1765.2 1689.7 L1766.4 1687.9 L1769.0 1686.1 L1769.1 1686.2 L1771.8 1686.3 L1774.4 1687.8 L1775.2 1688.0 L1777.1 1691.0 L1779.8 1695.9 L1781.5 1699.0 L1782.4 1700.4 L1785.1 1703.5 L1787.8 1707.8 L1787.8 1707.8 L1790.5 1707.1 L1792.8 1706.8 L1793.1 1706.9 L1795.8 1708.4 L1798.5 1709.4 L1799.0 1709.7 L1801.2 1710.8 L1803.8 1712.8 L1806.5 1713.7 L1806.5 1713.7 L1809.2 1718.9 L1811.5 1722.7 L1811.9 1724.5 L1814.0 1734.7 L1814.5 1735.4 L1817.2 1738.6 L1817.8 1739.4 L1819.9 1749.4 L1820.2 1751.1 L1822.6 1756.0 L1824.0 1758.8 L1825.2 1759.0 L1827.9 1759.1 L1830.6 1760.2 L1831.5 1760.0 L1833.3 1757.6 L1835.9 1755.1 L1838.6 1752.9 L1839.0 1752.7 L1841.3 1751.9 L1843.9 1749.7 L1844.0 1749.6 L1846.6 1750.9 L1849.3 1753.3 L1850.2 1754.0 L1852.0 1753.0 L1854.6 1751.6 L1857.3 1749.6 L1859.0 1748.5 L1860.0 1748.6 L1862.7 1749.2 L1865.3 1749.7 L1868.0 1750.4 L1869.0 1750.6 L1870.7 1750.7 L1873.4 1749.5 L1876.0 1749.5 L1878.7 1749.5 L1880.2 1749.4 L1881.4 1749.8 L1884.1 1751.1 L1886.7 1752.1 L1889.4 1753.0 L1891.5 1754.1 L1892.1 1754.3 L1894.8 1754.1 L1897.4 1754.1 L1900.1 1754.3 L1901.5 1754.6 L1902.8 1754.9 L1905.5 1755.4 L1908.1 1755.7 L1910.8 1757.1 L1913.5 1757.5 L1916.1 1757.8 L1916.5 1757.8 L1918.8 1757.7 L1921.5 1757.4 L1924.0 1757.7 L1924.2 1757.7 L1926.8 1759.4 L1929.5 1758.7 L1932.2 1760.2 L1934.9 1761.1 L1936.5 1761.4 L1937.5 1761.2 L1940.2 1760.8 L1942.9 1760.9 L1945.6 1760.0 L1948.2 1760.3 L1949.0 1760.3 L1950.9 1759.7 L1953.6 1757.8 L1956.3 1756.8 L1958.9 1756.1 L1961.5 1755.3 L1961.6 1755.4 L1964.3 1755.6 L1967.0 1755.5 L1969.6 1755.2 L1971.5 1755.2 L1972.3 1755.2 L1975.0 1755.9 L1977.6 1756.3 L1979.0 1756.1 L1980.3 1755.7 L1983.0 1755.8 L1985.7 1755.5 L1988.3 1755.4 L1989.0 1755.2 L1991.0 1754.5 L1993.7 1754.7 L1996.4 1753.9 L1999.0 1753.8 L2001.5 1753.7 L2001.7 1753.8 L2004.4 1755.2 L2007.1 1756.8 L2009.0 1756.6 L2009.7 1756.7 L2012.4 1757.9 L2015.1 1759.2 L2017.8 1759.5 L2017.8 1759.5 L2020.4 1759.8 L2023.1 1758.6 L2025.8 1759.1 L2028.5 1758.6 L2029.0 1758.4 L2031.1 1758.4 L2033.8 1758.3 L2036.5 1759.5 L2039.2 1759.3 L2041.5 1759.5 L2041.8 1759.6 L2044.5 1760.4 L2047.2 1760.3 L2049.8 1761.7 L2052.5 1762.5 L2054.0 1762.7 L2055.2 1763.0 L2057.9 1763.9 L2060.5 1764.5 L2063.2 1766.0 L2065.9 1766.9 L2066.5 1767.1 L2068.6 1766.8 L2071.2 1766.4 L2073.9 1766.7 L2076.5 1766.7 L2076.6 1766.7 L2079.3 1766.5 L2081.9 1766.9 L2084.6 1767.2 L2087.3 1767.4 L2090.0 1767.1 L2090.2 1767.1 L2092.6 1766.6 L2095.3 1766.1 L2098.0 1765.9 L2100.7 1765.7 L2103.3 1765.4 L2104.0 1765.2 L2106.0 1764.9 L2108.7 1765.1 L2111.3 1764.7 L2114.0 1765.4 L2116.7 1764.9 L2119.0 1765.1 L2119.4 1765.0 L2122.0 1763.8 L2124.7 1763.2 L2127.4 1762.2 L2129.0 1762.3 L2130.1 1763.0 L2132.7 1763.4 L2135.4 1764.1 L2136.5 1764.3 L2138.1 1764.4 L2140.8 1765.0 L2143.4 1765.9 L2146.1 1766.7 L2148.8 1766.0 L2151.5 1766.7 L2151.5 1766.7 L2154.1 1767.5 L2156.8 1767.8 L2159.5 1768.0 L2162.2 1769.1 L2164.0 1769.7 L2164.8 1769.7 L2167.5 1768.7 L2170.2 1769.1 L2172.9 1769.2 L2174.0 1769.1 L2175.5 1769.3 L2178.2 1769.2 L2180.9 1770.6 L2183.5 1770.4 L2186.2 1770.3 L2188.9 1771.3 L2191.6 1771.0 L2194.2 1772.1 L2196.9 1771.7 L2199.0 1772.6 L2199.6 1772.7 L2202.3 1772.0 L2204.9 1772.3 L2207.6 1771.9 L2210.3 1771.5 L2213.0 1771.1 L2215.6 1771.2 L2218.3 1769.9 L2221.0 1770.5 L2223.7 1770.2 L2224.0 1770.2 L2226.3 1770.4 L2229.0 1770.7 L2231.7 1771.9 L2234.4 1770.8 L2237.0 1771.2 L2239.7 1771.2 L2242.4 1771.9 L2245.0 1770.8 L2247.7 1772.3 L2250.4 1771.7 L2251.5 1771.5 L2253.1 1770.8 L2255.7 1770.5 L2258.4 1770.1 L2259.0 1770.0 L2261.1 1770.2 L2263.8 1770.4 L2266.4 1770.9 L2269.1 1770.8 L2271.8 1771.0 L2274.5 1770.5 L2277.1 1771.6 L2279.8 1772.0 L2282.5 1771.7 L2284.0 1771.6 L2285.2 1771.3 L2287.8 1771.4 L2290.5 1772.4 L2293.2 1771.5 L2295.9 1771.4 L2298.5 1771.2 L2301.2 1771.7 L2303.9 1771.1 L2306.0 1771.0 L2306.6 1771.0 L2309.2 1770.8 L2311.9 1771.4 L2314.6 1771.8 L2317.2 1771.5 L2319.9 1771.9 L2322.6 1771.8 L2325.3 1771.8 L2327.9 1771.9 L2330.6 1771.9 L2333.3 1772.4 L2333.5 1772.3 L2336.0 1771.7 L2338.6 1770.8 L2341.0 1770.5 L2341.3 1770.6 L2344.0 1771.0 L2346.7 1771.6 L2349.3 1772.0 L2352.0 1772.5 L2354.7 1772.3 L2356.0 1772.8 L2357.4 1773.5 L2360.0 1774.5 L2362.7 1774.3 L2365.4 1776.1 L2368.1 1776.3 L2370.7 1776.9 L2371.0 1776.9 L2373.4 1776.2 L2376.1 1777.1 L2378.7 1776.3 L2381.4 1776.3 L2384.1 1776.5 L2386.0 1776.0 L2386.8 1776.0 L2389.4 1776.2 L2392.1 1776.4 L2394.8 1776.9 L2397.5 1777.4 L2400.1 1777.6 L2401.0 1777.6 L2402.8 1777.4 L2405.5 1776.7 L2408.2 1776.4 L2410.8 1775.7 L2413.5 1776.2 L2413.5 1776.2 L2416.2 1775.7 L2418.9 1775.0 L2421.5 1775.4 L2424.2 1776.4 L2426.9 1775.5 L2429.6 1775.9 L2432.2 1776.3 L2434.9 1775.8 L2436.0 1776.2 L2437.6 1776.6 L2440.3 1776.7 L2442.9 1775.7 L2445.6 1776.3 L2448.3 1775.5 L2450.9 1775.3 L2453.6 1775.7 L2456.0 1775.6 L2456.3 1775.6 L2459.0 1775.6 L2461.6 1776.4 L2464.3 1775.8 L2467.0 1776.3 L2469.7 1776.5 L2472.3 1777.4 L2475.0 1777.7 L2477.7 1777.9 L2480.4 1777.5 L2481.0 1777.7 L2483.0 1777.7 L2485.7 1777.5 L2488.4 1776.3 L2491.1 1776.2 L2493.7 1776.3 L2496.4 1775.9 L2499.1 1775.4 L2501.0 1775.2 L2501.8 1775.1 L2504.4 1774.8 L2507.1 1774.6 L2509.8 1774.3 L2512.4 1773.8 L2515.1 1773.8 L2517.8 1773.5 L2520.5 1774.3 L2523.1 1773.3 L2525.8 1773.0 L2526.0 1773.0 L2528.5 1772.7 L2531.2 1772.4 L2533.8 1772.1 L2536.5 1772.1 L2539.2 1771.6 L2541.9 1771.6 L2542.2 1771.5 L2544.5 1771.8 L2547.2 1773.1 L2549.9 1774.3 L2552.6 1774.5 L2555.2 1775.9 L2557.9 1776.9 L2558.5 1777.0 L2560.6 1777.4 L2563.3 1778.0 L2565.9 1778.2 L2568.6 1779.9 L2571.3 1779.8 L2574.0 1780.3 L2576.6 1781.7 L2579.3 1781.4 L2581.0 1782.5 L2582.0 1783.0 L2584.6 1783.3 L2587.3 1783.8 L2590.0 1783.9 L2592.7 1784.0 L2595.3 1784.2 L2596.0 1784.6 L2598.0 1785.3 L2600.7 1784.4 L2603.4 1784.2 L2606.0 1784.7 L2608.7 1783.7 L2611.0 1783.6 L2611.4 1783.7 L2614.1 1784.0 L2616.7 1784.4 L2619.4 1784.4 L2621.0 1784.7 L2622.1 1784.5 L2624.8 1784.5 L2627.4 1783.7 L2630.1 1781.7 L2631.0 1781.6 L2632.8 1781.8 L2635.5 1782.5 L2638.1 1782.3 L2640.8 1782.1 L2643.5 1782.5 L2646.1 1781.4 L2648.5 1782.3 L2648.8 1782.3 L2651.5 1781.2 L2654.2 1780.7 L2656.0 1780.1 L2656.8 1780.1 L2659.5 1780.2 L2662.2 1779.8 L2664.9 1779.6 L2667.5 1780.0 L2670.2 1779.7 L2672.9 1779.1 L2675.6 1780.0 L2676.0 1780.0 L2678.2 1780.5 L2680.9 1781.2 L2683.6 1781.4 L2686.0 1782.1 L2686.3 1782.1 L2688.9 1781.7 L2691.6 1781.3 L2694.3 1781.5 L2697.0 1781.4 L2698.5 1781.1 L2699.6 1781.2 L2702.3 1782.5 L2705.0 1781.8 L2707.7 1782.5 L2710.3 1783.0 L2713.0 1784.2 L2715.7 1784.1 L2718.3 1784.5 L2721.0 1784.8 L2723.5 1785.2 L2723.7 1785.2 L2726.4 1785.3 L2729.0 1786.3 L2731.7 1786.3 L2733.5 1786.6 L2734.4 1786.5 L2737.1 1785.5 L2739.7 1786.3 L2742.4 1784.7 L2745.1 1783.9 L2746.0 1784.0 L2747.8 1784.3 L2750.4 1784.2 L2753.1 1784.2 L2755.8 1783.4 L2756.0 1783.4 L2758.5 1783.7 L2761.1 1783.8 L2763.8 1782.7 L2766.5 1782.4 L2769.2 1781.8 L2771.8 1782.3 L2774.5 1782.2 L2777.2 1781.9 L2779.8 1781.7 L2781.0 1781.6 L2782.5 1781.7 L2785.2 1781.3 L2787.9 1781.6 L2790.5 1780.9 L2793.2 1781.0 L2795.9 1781.3 L2798.6 1781.0 L2801.2 1781.5 L2803.5 1781.7 L2803.9 1781.8 L2806.6 1781.8 L2809.3 1781.8 L2811.9 1782.2 L2814.6 1783.3 L2817.3 1783.0 L2820.0 1783.7 L2822.6 1783.9 L2825.3 1784.4 L2826.0 1784.6 L2828.0 1785.1 L2830.7 1784.8 L2833.3 1784.7 L2836.0 1786.0 L2838.7 1785.8 L2841.0 1786.2 L2841.4 1786.3 L2844.0 1786.1 L2846.0 1786.4 L2846.7 1786.6 L2849.4 1787.1 L2852.0 1787.4 L2854.7 1787.2 L2857.4 1787.5 L2860.1 1788.0 L2861.0 1788.1 L2862.7 1788.0 L2865.4 1788.1 L2868.1 1787.5 L2870.8 1786.9 L2873.4 1787.8 L2876.1 1787.8 L2878.8 1787.7 L2881.5 1788.0 L2884.1 1787.6 L2886.8 1787.1 L2889.5 1787.5 L2892.2 1787.0 L2893.5 1787.2 L2894.8 1787.2 L2897.5 1786.5 L2900.2 1786.2 L2902.9 1785.7 L2905.5 1785.3 L2908.2 1784.4 L2910.9 1784.5 L2911.0 1784.5 L2913.5 1784.0 L2916.2 1785.3 L2918.9 1785.7 L2921.6 1786.4 L2924.2 1786.1 L2926.9 1786.0 L2929.6 1786.0 L2932.3 1787.5 L2933.5 1787.1 L2934.9 1786.4 L2937.6 1787.2 L2940.3 1785.9 L2943.0 1786.6 L2945.6 1786.8 L2948.3 1786.6 L2951.0 1786.3 L2953.5 1786.0 L2953.7 1786.0 L2956.3 1786.4 L2959.0 1787.6 L2961.7 1787.8 L2963.5 1788.0 L2964.4 1787.9 L2967.0 1787.9 L2969.7 1787.3 L2972.4 1787.9 L2975.1 1787.8 L2977.7 1787.0 L2980.4 1787.1 L2983.1 1787.3 L2985.7 1786.6 L2988.4 1787.4 L2991.1 1787.0 L2993.8 1786.3 L2996.0 1786.5 L2996.4 1786.6 L2999.1 1786.7 L3001.8 1785.5 L3004.5 1786.0 L3007.1 1785.6 L3009.8 1785.5 L3011.0 1785.6 L3012.5 1785.7 L3015.2 1785.2 L3017.8 1784.8 L3020.5 1784.7 L3023.2 1785.1 L3025.9 1785.2 L3026.0 1785.2 L3028.5 1785.4 L3031.2 1785.7 L3033.9 1786.2 L3036.6 1787.0 L3039.2 1787.2 L3041.9 1787.1 L3044.6 1787.7 L3046.0 1788.2 L3047.2 1788.5 L3049.9 1788.0 L3052.6 1788.3 L3055.3 1788.5 L3057.9 1788.3 L3060.6 1789.2 L3063.3 1788.3 L3066.0 1789.7 L3068.6 1789.2 L3071.0 1789.1 L3071.3 1789.1 L3074.0 1789.7 L3076.7 1789.1 L3079.3 1790.0 L3082.0 1790.1 L3084.7 1789.8 L3086.0 1789.8 L3087.4 1789.7 L3090.0 1789.8 L3092.7 1788.9 L3095.4 1788.8 L3098.1 1788.5 L3100.7 1788.6 L3101.0 1788.5 L3103.4 1787.7 L3106.1 1787.8 L3108.8 1788.1 L3111.4 1786.7 L3114.1 1787.4 L3114.8 1787.3" stroke="#000000"/>
<path d="M440.0 1788.0 L440.1 1788.0 L442.8 1787.6 L443.8 1787.5 L445.4 1787.0 L448.1 1787.1 L450.8 1787.3 L453.5 1787.0 L456.1 1786.2 L458.8 1786.5 L461.5 1786.0 L464.2 1786.0 L465.0 1785.9 L466.8 1786.1 L469.5 1785.8 L472.2 1786.6 L474.9 1786.5 L477.5 1787.5 L480.2 1787.5 L482.9 1787.6 L485.6 1787.5 L488.2 1788.1 L490.0 1788.3 L490.9 1788.3 L493.6 1787.8 L496.3 1788.9 L498.9 1788.2 L501.6 1788.6 L504.3 1787.6 L506.9 1788.5 L509.6 1787.4 L512.3 1787.7 L515.0 1788.0 L517.6 1787.8 L520.0 1787.0 L520.3 1786.9 L523.0 1786.9 L525.7 1787.2 L528.3 1787.2 L531.0 1786.4 L533.7 1785.6 L536.4 1785.6 L539.0 1784.5 L540.0 1784.6 L541.7 1785.1 L544.4 1784.7 L547.1 1785.4 L549.7 1785.6 L552.4 1786.1 L555.1 1786.0 L557.8 1786.7 L560.0 1786.5 L560.4 1786.4 L563.1 1786.8 L565.8 1786.8 L568.5 1785.9 L571.1 1786.5 L573.8 1786.5 L576.5 1786.2 L579.1 1786.6 L581.8 1786.0 L584.5 1786.7 L585.0 1786.7 L587.2 1786.3 L589.8 1785.8 L592.5 1786.1 L595.2 1784.9 L597.9 1784.4 L600.0 1783.8 L600.5 1783.7 L603.2 1783.6 L605.9 1782.8 L608.6 1783.2 L611.2 1782.1 L613.9 1782.0 L616.6 1782.2 L619.3 1781.5 L621.9 1780.8 L624.6 1780.8 L625.0 1780.7 L627.3 1780.7 L630.0 1781.5 L632.6 1781.8 L635.3 1782.0 L638.0 1783.0 L640.6 1783.7 L643.3 1783.8 L646.0 1784.1 L647.5 1784.5 L648.7 1784.5 L651.3 1783.8 L654.0 1784.3 L656.7 1784.0 L659.4 1784.9 L662.0 1783.9 L664.7 1783.5 L665.0 1783.5 L667.4 1784.5 L670.1 1784.4 L672.7 1784.7 L675.4 1784.9 L678.1 1785.2 L680.0 1785.2 L680.8 1785.0 L683.4 1785.2 L686.1 1784.8 L688.8 1784.1 L691.5 1783.9 L694.1 1783.3 L696.8 1783.5 L699.5 1783.3 L702.2 1783.0 L702.5 1783.0 L704.8 1783.1 L707.5 1783.0 L710.2 1783.8 L712.8 1783.3 L715.5 1783.6 L718.2 1783.6 L720.9 1783.9 L722.5 1784.0 L723.5 1783.9 L726.2 1784.7 L728.9 1784.1 L731.6 1783.4 L734.2 1783.8 L736.9 1783.5 L739.6 1784.3 L742.3 1784.5 L742.5 1784.4 L744.9 1783.7 L747.6 1783.9 L750.3 1783.5 L753.0 1783.5 L755.0 1783.7 L755.6 1783.8 L758.3 1782.7 L761.0 1782.0 L763.7 1782.3 L766.3 1781.8 L769.0 1781.5 L771.7 1781.2 L774.3 1780.3 L777.0 1779.4 L779.7 1780.1 L782.4 1779.2 L785.0 1778.6 L785.0 1778.6 L787.7 1777.4 L790.4 1777.1 L793.1 1775.6 L793.8 1775.3 L795.7 1775.5 L798.4 1776.0 L801.1 1775.7 L803.8 1775.8 L806.4 1776.1 L807.5 1776.2 L809.1 1776.4 L811.8 1777.1 L814.5 1777.3 L817.1 1778.1 L819.8 1778.4 L822.5 1779.0 L825.2 1779.7 L827.8 1780.4 L830.0 1780.8 L830.5 1780.9 L833.2 1780.7 L835.9 1781.1 L838.5 1781.1 L841.2 1782.0 L843.9 1782.5 L846.5 1782.1 L849.2 1782.9 L850.0 1782.9 L851.9 1782.4 L854.6 1782.2 L857.2 1782.1 L859.9 1781.6 L862.6 1781.8 L865.3 1780.7 L867.9 1780.7 L870.6 1780.6 L873.3 1780.1 L875.0 1780.2 L876.0 1780.5 L878.6 1780.3 L881.3 1781.3 L884.0 1781.2 L886.7 1782.1 L887.5 1782.3 L889.3 1782.2 L892.0 1782.5 L894.7 1781.8 L897.4 1781.7 L900.0 1780.8 L902.7 1781.3 L905.0 1780.3 L905.4 1780.2 L908.0 1780.3 L910.7 1780.1 L913.4 1780.8 L916.1 1781.2 L918.7 1780.8 L921.4 1781.0 L924.1 1781.1 L926.8 1781.3 L927.5 1781.4 L929.4 1780.9 L932.1 1780.1 L934.8 1780.5 L937.5 1778.8 L940.0 1778.7 L940.1 1778.7 L942.8 1779.0 L945.5 1779.2 L948.2 1778.7 L950.8 1778.6 L953.5 1778.6 L956.2 1778.4 L958.9 1778.7 L961.5 1778.2 L964.2 1777.9 L965.0 1778.0 L966.9 1777.9 L969.6 1777.9 L972.2 1778.0 L974.9 1777.9 L977.6 1777.0 L980.2 1776.4 L982.9 1776.2 L985.0 1777.0 L985.6 1777.3 L988.3 1776.6 L990.9 1777.1 L993.6 1777.8 L996.3 1777.1 L999.0 1777.4 L1001.6 1777.5 L1002.5 1777.5 L1004.3 1777.7 L1007.0 1778.7 L1009.7 1779.3 L1012.3 1778.7 L1015.0 1780.1 L1015.0 1780.1 L1017.7 1779.8 L1020.4 1780.1 L1023.0 1780.3 L1025.7 1779.9 L1028.4 1780.4 L1031.1 1780.3 L1032.5 1781.0 L1033.7 1781.2 L1036.4 1781.0 L1039.1 1779.9 L1041.7 1779.0 L1044.4 1779.5 L1045.0 1779.3 L1047.1 1778.8 L1049.8 1779.3 L1052.4 1779.3 L1055.1 1779.0 L1057.8 1778.1 L1060.5 1777.7 L1062.0 1777.7 L1063.1 1777.7 L1065.8 1777.8 L1068.5 1777.4 L1071.2 1778.1 L1073.8 1777.8 L1076.5 1777.4 L1079.2 1777.2 L1081.9 1777.4 L1084.5 1777.6 L1087.0 1776.4 L1087.2 1776.3 L1089.9 1777.1 L1092.6 1776.9 L1095.2 1776.7 L1097.9 1776.9 L1100.6 1777.0 L1103.3 1777.7 L1105.9 1777.0 L1108.6 1776.8 L1111.3 1776.6 L1112.0 1776.8 L1113.9 1777.5 L1116.6 1777.2 L1119.3 1777.7 L1122.0 1778.3 L1124.6 1778.4 L1127.3 1778.5 L1128.2 1778.6 L1130.0 1778.5 L1132.7 1778.5 L1135.3 1777.9 L1138.0 1777.7 L1140.7 1777.4 L1143.4 1776.9 L1146.0 1776.8 L1148.7 1776.2 L1149.5 1776.3 L1151.4 1776.6 L1154.1 1776.2 L1156.7 1775.3 L1159.4 1775.7 L1162.1 1776.0 L1164.8 1775.4 L1167.4 1775.2 L1170.1 1775.6 L1172.8 1774.7 L1174.5 1774.9 L1175.4 1774.9 L1178.1 1774.9 L1180.8 1774.7 L1183.5 1773.8 L1186.1 1773.5 L1188.8 1774.2 L1191.5 1773.2 L1194.2 1773.2 L1196.8 1773.8 L1199.5 1772.6 L1202.0 1771.8 L1202.2 1771.7 L1204.9 1772.9 L1207.5 1771.7 L1210.2 1771.0 L1212.9 1771.3 L1214.5 1770.4 L1215.6 1770.4 L1218.2 1771.9 L1220.9 1772.3 L1223.6 1773.2 L1226.3 1774.5 L1227.0 1774.7 L1228.9 1774.6 L1231.6 1774.5 L1234.3 1774.2 L1237.0 1773.3 L1239.6 1773.2 L1242.3 1773.6 L1245.0 1772.9 L1247.0 1772.6 L1247.6 1772.6 L1250.3 1773.1 L1253.0 1773.2 L1255.7 1773.3 L1258.3 1772.8 L1259.5 1772.8 L1261.0 1773.4 L1263.7 1774.8 L1266.4 1776.0 L1268.2 1776.1 L1269.0 1775.6 L1271.7 1775.1 L1274.4 1774.4 L1277.1 1774.1 L1279.5 1772.7 L1279.7 1772.6 L1282.4 1773.7 L1285.1 1772.6 L1287.8 1772.6 L1290.4 1772.9 L1293.1 1772.2 L1295.8 1772.0 L1298.5 1771.5 L1301.1 1771.5 L1302.0 1771.2 L1303.8 1770.7 L1306.5 1770.7 L1309.1 1770.4 L1311.8 1769.7 L1314.5 1770.0 L1317.2 1769.5 L1319.8 1768.4 L1322.0 1768.8 L1322.5 1769.1 L1325.2 1768.7 L1327.9 1769.4 L1330.5 1769.2 L1333.2 1769.6 L1335.9 1770.1 L1337.0 1770.4 L1338.6 1771.1 L1341.2 1770.5 L1343.9 1771.6 L1346.6 1772.3 L1349.3 1773.5 L1351.9 1773.7 L1354.6 1774.6 L1357.0 1775.4 L1357.3 1775.5 L1360.0 1775.9 L1362.6 1776.0 L1365.3 1776.5 L1368.0 1777.1 L1370.7 1777.8 L1372.0 1777.9 L1373.3 1777.5 L1376.0 1777.3 L1378.7 1777.0 L1381.3 1776.2 L1384.0 1775.7 L1386.7 1775.5 L1389.4 1775.2 L1392.0 1774.0 L1392.0 1774.0 L1394.7 1773.3 L1397.4 1773.2 L1400.1 1771.9 L1402.7 1770.6 L1405.4 1770.2 L1408.1 1769.8 L1410.8 1768.2 L1412.0 1767.7 L1413.4 1767.4 L1416.1 1767.2 L1418.8 1767.3 L1421.5 1766.1 L1424.1 1766.0 L1426.8 1765.7 L1429.5 1765.0 L1432.2 1764.2 L1434.8 1764.1 L1437.5 1763.4 L1439.5 1763.2 L1440.2 1763.5 L1442.8 1764.0 L1445.5 1764.5 L1448.2 1764.5 L1450.9 1766.0 L1453.5 1766.4 L1455.8 1766.4 L1456.2 1766.3 L1458.9 1767.1 L1461.6 1767.4 L1464.2 1767.4 L1465.8 1767.0 L1466.9 1766.5 L1469.6 1766.7 L1472.3 1766.2 L1474.9 1766.0 L1477.6 1764.9 L1480.3 1765.4 L1482.0 1765.2 L1483.0 1765.1 L1485.6 1764.7 L1488.3 1764.2 L1491.0 1763.8 L1493.7 1763.9 L1496.3 1763.4 L1499.0 1762.7 L1501.7 1762.6 L1502.0 1762.6 L1504.4 1761.8 L1507.0 1760.9 L1509.7 1759.6 L1512.4 1758.1 L1514.5 1757.3 L1515.0 1757.3 L1517.7 1757.3 L1520.4 1757.1 L1523.1 1757.1 L1525.7 1755.9 L1528.4 1756.1 L1529.5 1755.9 L1531.1 1755.9 L1533.8 1756.6 L1536.4 1756.5 L1539.1 1756.4 L1541.8 1756.5 L1544.5 1756.1 L1547.1 1756.4 L1549.8 1756.3 L1552.0 1756.3 L1552.5 1756.2 L1555.2 1755.9 L1557.8 1756.0 L1560.5 1755.7 L1563.2 1754.5 L1565.9 1754.6 L1568.5 1754.5 L1571.2 1754.4 L1573.9 1753.3 L1576.5 1753.3 L1579.2 1753.2 L1581.9 1753.6 L1582.0 1753.6 L1584.6 1752.8 L1587.2 1753.0 L1589.9 1753.2 L1592.6 1753.3 L1595.3 1753.4 L1597.9 1753.4 L1600.6 1753.4 L1603.3 1753.7 L1606.0 1753.8 L1608.6 1753.9 L1609.5 1753.9 L1611.3 1754.3 L1614.0 1754.5 L1616.7 1755.6 L1619.3 1756.3 L1622.0 1757.2 L1624.5 1757.7 L1624.7 1757.7 L1627.4 1758.1 L1630.0 1757.4 L1632.7 1757.7 L1635.4 1757.9 L1638.1 1757.7 L1639.5 1757.9 L1640.7 1757.7 L1643.4 1757.4 L1646.1 1757.0 L1648.7 1757.6 L1651.4 1756.4 L1654.1 1756.6 L1656.8 1755.4 L1659.4 1755.4 L1662.0 1754.8 L1662.1 1754.8 L1664.8 1754.3 L1667.5 1753.9 L1670.1 1753.2 L1672.8 1752.0 L1674.5 1751.5 L1675.5 1751.2 L1678.2 1750.3 L1680.8 1749.7 L1683.5 1749.4 L1684.0 1749.0 L1686.2 1746.9 L1688.9 1745.7 L1691.5 1743.9 L1694.2 1743.0 L1696.5 1740.9 L1696.9 1740.9 L1699.6 1741.7 L1702.2 1741.2 L1704.9 1741.4 L1707.6 1742.5 L1710.2 1742.5 L1712.9 1742.0 L1715.6 1741.9 L1716.5 1742.0 L1718.3 1742.1 L1720.9 1742.6 L1723.6 1742.3 L1726.3 1742.0 L1729.0 1742.4 L1731.6 1742.6 L1734.3 1741.7 L1737.0 1742.0 L1739.0 1741.8 L1739.7 1742.0 L1742.3 1743.6 L1745.0 1744.3 L1747.7 1745.1 L1750.2 1745.7 L1750.4 1745.6 L1753.0 1744.4 L1755.2 1742.5 L1755.7 1741.4 L1758.4 1735.5 L1760.2 1731.2 L1761.1 1731.2 L1763.7 1731.4 L1766.4 1730.7 L1769.0 1731.0 L1769.1 1730.9 L1771.8 1729.6 L1774.0 1728.6 L1774.4 1728.5 L1777.1 1727.4 L1779.8 1726.6 L1781.5 1726.1 L1782.4 1726.7 L1785.1 1728.4 L1785.2 1728.5 L1787.8 1727.7 L1790.5 1726.4 L1791.5 1726.1 L1793.1 1724.9 L1795.8 1722.6 L1796.5 1722.2 L1798.5 1723.0 L1801.2 1722.8 L1803.8 1723.7 L1806.5 1723.6 L1806.5 1723.6 L1809.2 1727.9 L1811.9 1732.1 L1812.8 1733.0 L1814.5 1733.0 L1817.2 1733.9 L1819.0 1735.1 L1819.9 1733.2 L1822.6 1726.1 L1824.0 1722.5 L1825.2 1720.6 L1827.9 1716.8 L1830.6 1712.7 L1831.5 1711.5 L1833.3 1708.9 L1835.9 1704.3 L1837.8 1701.2 L1838.6 1700.3 L1841.3 1697.6 L1843.9 1695.0 L1844.0 1694.9 L1846.6 1695.1 L1849.3 1695.9 L1851.5 1695.2 L1852.0 1694.9 L1854.6 1694.4 L1856.5 1694.1 L1857.3 1693.5 L1860.0 1691.2 L1862.7 1689.4 L1862.8 1689.3 L1865.3 1688.0 L1868.0 1687.2 L1869.0 1686.5 L1870.7 1686.7 L1873.4 1687.7 L1875.2 1689.2 L1876.0 1690.5 L1878.7 1693.7 L1881.4 1697.4 L1881.5 1697.5 L1884.1 1698.3 L1886.5 1700.0 L1886.7 1700.4 L1889.4 1704.3 L1891.5 1707.7 L1892.1 1708.3 L1894.8 1710.5 L1897.4 1713.5 L1900.1 1716.0 L1900.2 1716.1 L1902.8 1716.3 L1905.5 1716.6 L1908.1 1716.4 L1910.8 1716.5 L1913.5 1717.1 L1916.1 1716.6 L1916.5 1716.8 L1918.8 1717.7 L1921.5 1717.9 L1924.2 1717.0 L1926.8 1718.3 L1929.5 1717.6 L1931.5 1718.3 L1932.2 1718.8 L1934.9 1719.4 L1937.5 1721.1 L1940.2 1721.7 L1942.9 1723.5 L1944.0 1723.9 L1945.6 1723.8 L1948.2 1724.3 L1950.9 1724.0 L1951.5 1723.9 L1953.6 1724.6 L1956.3 1726.5 L1958.9 1727.6 L1961.6 1729.4 L1964.3 1731.3 L1966.5 1732.6 L1967.0 1732.6 L1969.6 1732.6 L1972.3 1732.7 L1975.0 1733.5 L1977.6 1734.6 L1980.3 1734.3 L1983.0 1734.3 L1984.0 1734.5 L1985.7 1734.4 L1988.3 1734.3 L1991.0 1734.9 L1993.7 1734.2 L1996.4 1733.8 L1999.0 1734.0 L2000.2 1734.0 L2001.7 1735.0 L2004.4 1736.2 L2006.5 1737.3 L2007.1 1737.2 L2009.7 1737.6 L2012.4 1737.8 L2015.1 1736.9 L2017.8 1737.0 L2019.0 1737.6 L2020.4 1738.4 L2023.1 1738.3 L2025.8 1738.8 L2028.5 1738.6 L2031.1 1739.2 L2033.8 1739.9 L2034.0 1740.0 L2036.5 1740.9 L2039.2 1741.1 L2041.8 1741.0 L2044.5 1742.6 L2046.5 1743.1 L2047.2 1742.7 L2049.8 1741.1 L2052.5 1739.1 L2054.0 1738.5 L2055.2 1738.8 L2057.9 1739.6 L2059.0 1740.0 L2060.5 1739.7 L2063.2 1739.5 L2065.9 1737.8 L2068.6 1737.3 L2071.2 1736.9 L2073.9 1736.0 L2076.5 1735.3 L2076.6 1735.3 L2079.3 1733.1 L2081.9 1731.8 L2082.8 1731.2 L2084.6 1730.9 L2087.3 1730.8 L2090.0 1730.8 L2092.6 1730.1 L2094.0 1729.9 L2095.3 1729.7 L2098.0 1729.4 L2100.7 1728.7 L2101.5 1728.7 L2103.3 1729.7 L2106.0 1730.4 L2108.7 1732.0 L2111.3 1733.9 L2111.5 1733.9 L2114.0 1732.9 L2116.7 1732.1 L2119.4 1730.3 L2121.5 1729.8 L2122.0 1729.7 L2124.7 1729.6 L2127.4 1729.2 L2130.1 1728.9 L2131.5 1729.0 L2132.7 1729.5 L2135.4 1729.3 L2138.1 1729.8 L2140.8 1730.5 L2141.5 1730.7 L2143.4 1730.7 L2146.1 1730.5 L2148.8 1731.1 L2149.0 1731.0 L2151.5 1731.5 L2154.1 1732.1 L2156.5 1732.7 L2156.8 1732.6 L2159.5 1732.6 L2162.2 1731.3 L2164.8 1730.9 L2167.5 1729.9 L2167.8 1729.9 L2170.2 1731.4 L2172.9 1731.6 L2175.5 1731.5 L2178.2 1732.9 L2180.9 1733.0 L2183.5 1734.0 L2186.2 1735.2 L2186.5 1735.2 L2188.9 1735.1 L2191.6 1736.4 L2194.2 1736.9 L2196.9 1737.9 L2199.6 1737.9 L2201.5 1738.8 L2202.3 1738.8 L2204.9 1738.0 L2207.6 1738.1 L2209.0 1737.7 L2210.3 1738.0 L2213.0 1739.3 L2215.6 1740.6 L2216.5 1740.9 L2218.3 1741.2 L2221.0 1741.4 L2223.7 1742.2 L2226.3 1742.5 L2229.0 1743.1 L2229.0 1743.1 L2231.7 1744.0 L2234.4 1743.6 L2237.0 1743.9 L2239.7 1744.9 L2242.4 1745.0 L2244.0 1745.7 L2245.0 1745.9 L2247.7 1745.7 L2250.4 1745.5 L2253.1 1745.2 L2255.7 1744.9 L2258.4 1744.7 L2259.0 1744.7 L2261.1 1744.3 L2263.8 1743.8 L2266.4 1742.8 L2269.0 1742.8 L2269.1 1742.9 L2271.8 1743.5 L2274.5 1743.5 L2276.5 1743.7 L2277.1 1743.4 L2279.8 1744.2 L2282.5 1742.9 L2285.2 1741.8 L2286.5 1741.7 L2287.8 1742.1 L2290.5 1743.2 L2293.2 1744.0 L2295.9 1744.3 L2298.5 1744.9 L2301.2 1745.4 L2303.9 1745.8 L2306.0 1745.4 L2306.6 1745.1 L2309.2 1745.2 L2311.9 1744.8 L2314.6 1744.9 L2317.2 1744.5 L2319.9 1744.5 L2322.6 1744.8 L2325.3 1743.8 L2327.9 1744.1 L2328.5 1743.9 L2330.6 1743.9 L2333.3 1744.5 L2336.0 1746.0 L2338.6 1746.2 L2341.3 1747.0 L2344.0 1748.1 L2346.7 1747.8 L2348.5 1748.6 L2349.3 1748.9 L2352.0 1749.9 L2354.7 1749.6 L2357.4 1750.5 L2360.0 1751.2 L2362.7 1751.7 L2365.4 1752.2 L2368.1 1752.8 L2368.5 1752.8 L2370.7 1753.3 L2373.4 1754.2 L2376.1 1754.9 L2378.7 1755.3 L2381.4 1756.4 L2383.5 1757.0 L2384.1 1757.0 L2386.8 1757.7 L2389.4 1757.7 L2392.1 1757.9 L2394.8 1758.0 L2396.0 1758.1 L2397.5 1757.9 L2400.1 1757.0 L2402.8 1756.7 L2405.5 1755.9 L2408.2 1755.5 L2410.8 1754.7 L2411.0 1754.7 L2413.5 1755.7 L2416.2 1755.0 L2418.9 1754.4 L2421.5 1754.5 L2424.2 1754.7 L2426.0 1754.4 L2426.9 1754.4 L2429.6 1754.9 L2432.2 1754.8 L2434.9 1755.1 L2437.6 1753.8 L2440.3 1755.1 L2442.9 1755.0 L2445.6 1755.3 L2446.0 1755.3 L2448.3 1755.3 L2450.9 1755.7 L2453.6 1756.1 L2456.3 1757.2 L2459.0 1757.7 L2461.0 1757.6 L2461.6 1757.3 L2464.3 1757.4 L2467.0 1757.3 L2469.7 1756.6 L2472.3 1756.6 L2475.0 1756.3 L2476.0 1756.2 L2477.7 1756.5 L2480.4 1756.8 L2483.0 1758.4 L2485.7 1758.8 L2488.4 1759.5 L2491.0 1759.8 L2491.1 1759.8 L2493.7 1760.3 L2496.4 1760.3 L2499.1 1760.8 L2501.8 1761.1 L2503.5 1761.4 L2504.4 1761.1 L2507.1 1759.8 L2509.8 1758.9 L2511.0 1758.8 L2512.4 1759.4 L2515.1 1758.8 L2517.8 1759.6 L2520.5 1759.8 L2523.1 1760.4 L2525.8 1760.3 L2526.0 1760.3 L2528.5 1760.8 L2531.2 1761.9 L2533.8 1762.1 L2536.5 1762.9 L2538.5 1763.7 L2539.2 1763.7 L2541.9 1763.6 L2544.5 1762.9 L2547.2 1763.8 L2549.9 1763.2 L2552.6 1763.5 L2553.5 1763.4 L2555.2 1763.8 L2557.9 1764.2 L2560.6 1764.8 L2563.3 1765.1 L2565.9 1766.7 L2568.5 1767.5 L2568.6 1767.6 L2571.3 1767.6 L2574.0 1768.1 L2576.6 1768.3 L2579.3 1768.8 L2582.0 1769.7 L2583.5 1770.2 L2584.6 1770.4 L2587.3 1769.8 L2590.0 1770.1 L2592.7 1769.9 L2595.3 1769.6 L2598.0 1769.3 L2600.7 1769.4 L2601.0 1769.3 L2603.4 1769.5 L2606.0 1770.7 L2608.7 1771.0 L2611.0 1771.0 L2611.4 1770.9 L2614.1 1770.7 L2616.7 1770.1 L2619.4 1770.3 L2622.1 1770.2 L2624.8 1769.3 L2626.0 1769.3 L2627.4 1769.2 L2630.1 1769.3 L2632.8 1768.4 L2635.5 1768.8 L2638.1 1769.0 L2640.8 1768.8 L2643.5 1768.0 L2643.5 1768.0 L2646.1 1767.6 L2648.8 1767.5 L2651.5 1767.0 L2654.2 1766.9 L2656.8 1766.1 L2659.5 1765.7 L2662.2 1765.3 L2663.5 1765.4 L2664.9 1765.5 L2667.5 1764.4 L2670.2 1765.0 L2672.9 1764.4 L2675.6 1764.3 L2678.2 1763.7 L2680.9 1763.8 L2681.0 1763.8 L2683.6 1762.9 L2686.3 1761.8 L2688.9 1762.2 L2691.6 1761.0 L2694.3 1760.9 L2696.0 1760.3 L2697.0 1760.2 L2699.6 1761.0 L2702.3 1761.4 L2705.0 1761.4 L2707.7 1762.4 L2710.3 1762.7 L2713.0 1762.5 L2715.7 1764.4 L2716.0 1764.4 L2718.3 1763.6 L2721.0 1763.1 L2723.7 1762.5 L2726.4 1762.4 L2729.0 1761.5 L2731.0 1761.4 L2731.7 1761.7 L2734.4 1762.6 L2737.1 1762.9 L2739.7 1763.8 L2742.4 1764.6 L2745.1 1764.8 L2747.8 1766.2 L2748.5 1766.4 L2750.4 1766.3 L2753.1 1766.7 L2755.8 1766.3 L2758.5 1766.0 L2761.1 1766.3 L2763.5 1766.1 L2763.8 1766.2 L2766.5 1766.1 L2769.2 1767.4 L2771.8 1767.6 L2774.5 1769.1 L2777.2 1769.3 L2779.8 1770.1 L2781.0 1770.2 L2782.5 1770.4 L2785.2 1770.7 L2787.9 1771.4 L2790.5 1771.1 L2793.2 1772.3 L2795.9 1772.5 L2796.0 1772.5 L2798.6 1771.8 L2801.2 1772.3 L2803.9 1772.5 L2806.6 1772.0 L2809.3 1772.6 L2811.0 1772.5 L2811.9 1772.6 L2814.6 1772.4 L2817.3 1772.8 L2820.0 1773.4 L2822.6 1773.8 L2825.3 1774.7 L2826.0 1774.8 L2828.0 1774.8 L2830.7 1774.5 L2833.3 1774.4 L2836.0 1774.0 L2838.7 1773.8 L2841.0 1773.6 L2841.4 1773.5 L2844.0 1774.6 L2846.0 1774.2 L2846.7 1774.0 L2849.4 1773.8 L2852.0 1773.2 L2854.7 1772.7 L2857.4 1772.8 L2858.5 1772.8 L2860.1 1772.6 L2862.7 1772.3 L2865.4 1772.2 L2868.1 1771.5 L2870.8 1771.4 L2873.4 1771.0 L2876.1 1770.6 L2878.5 1770.0 L2878.8 1770.0 L2881.5 1770.8 L2884.1 1771.0 L2886.8 1771.5 L2889.5 1771.8 L2892.2 1772.3 L2894.8 1772.8 L2897.5 1773.4 L2900.2 1773.4 L2901.0 1773.6 L2902.9 1773.9 L2905.5 1774.4 L2908.2 1775.1 L2910.9 1775.0 L2913.5 1775.6 L2916.2 1776.0 L2918.9 1776.0 L2921.0 1776.7 L2921.6 1776.8 L2924.2 1775.8 L2926.9 1775.6 L2929.6 1775.6 L2932.3 1775.6 L2934.9 1775.7 L2937.6 1775.7 L2940.3 1775.8 L2943.0 1775.4 L2945.6 1775.3 L2946.0 1775.4 L2948.3 1775.6 L2951.0 1775.2 L2953.7 1775.2 L2956.3 1774.9 L2959.0 1774.4 L2961.7 1774.7 L2964.4 1774.6 L2966.0 1774.6 L2967.0 1774.6 L2969.7 1774.3 L2972.4 1773.8 L2975.1 1774.4 L2977.7 1773.3 L2980.4 1772.9 L2983.1 1773.1 L2985.7 1773.0 L2988.4 1773.2 L2988.5 1773.2 L2991.1 1772.4 L2993.8 1772.3 L2996.4 1772.0 L2999.1 1771.8 L3001.0 1770.9 L3001.8 1770.6 L3004.5 1770.9 L3007.1 1770.1 L3009.8 1770.5 L3011.0 1770.1 L3012.5 1770.5 L3015.2 1771.8 L3017.8 1773.6 L3018.5 1773.9 L3020.5 1774.0 L3023.2 1774.2 L3025.9 1774.8 L3028.5 1774.7 L3031.2 1774.9 L3033.9 1775.8 L3036.6 1775.6 L3039.2 1776.1 L3041.0 1776.0 L3041.9 1776.0 L3044.6 1776.8 L3047.2 1777.0 L3049.9 1777.7 L3052.6 1778.7 L3055.3 1777.6 L3057.9 1778.4 L3060.6 1779.0 L3063.3 1779.5 L3063.5 1779.5 L3066.0 1779.1 L3068.6 1779.7 L3071.3 1779.6 L3074.0 1780.0 L3076.7 1779.8 L3079.3 1781.2 L3082.0 1780.4 L3084.7 1780.7 L3086.0 1780.2 L3087.4 1779.7 L3090.0 1780.1 L3092.7 1780.3 L3095.4 1780.9 L3098.1 1780.0 L3100.7 1780.4 L3103.4 1779.9 L3106.1 1780.1 L3108.8 1779.4 L3111.4 1779.4 L3114.1 1779.7 L3114.8 1779.9" stroke="#808080"/>
</g>
<g stroke="#000" stroke-width="6.1" fill="none">
<line x1="413.1" y1="1842.1" x2="440.1" y2="1842.1"/>
<line x1="413.1" y1="1552.6" x2="440.1" y2="1552.6"/>
<line x1="413.1" y1="1263.1" x2="440.1" y2="1263.1"/>
<line x1="413.1" y1="973.6" x2="440.1" y2="973.6"/>
<line x1="413.1" y1="684.1" x2="440.1" y2="684.1"/>
<line x1="413.1" y1="394.6" x2="440.1" y2="394.6"/>
<line x1="440.1" y1="1842.1" x2="440.1" y2="1869.1"/>
<line x1="1777.1" y1="1842.1" x2="1777.1" y2="1869.1"/>
<line x1="3114.1" y1="1842.1" x2="3114.1" y2="1869.1"/>
<rect x="440.1" y="248.2" width="2674.0" height="1593.9" stroke-linejoin="miter"/>
</g>
<g font-size="77.0">
<text x="387" y="1871.6" text-anchor="end">0.0</text>
<text x="387" y="1582.1" text-anchor="end">0.1</text>
<text x="387" y="1292.6" text-anchor="end">0.2</text>
<text x="387" y="1003.1" text-anchor="end">0.3</text>
<text x="387" y="713.6" text-anchor="end">0.4</text>
<text x="387" y="424.1" text-anchor="end">0.5</text>
<text x="440.1" y="1954.4" text-anchor="middle">−500</text>
<text x="1777.1" y="1954.4" text-anchor="middle">0</text>
<text x="3114.1" y="1954.4" text-anchor="middle">500</text>
</g>
<text x="1777.3" y="2059" text-anchor="middle" font-size="76.7" font-weight="bold">Distance from reference (bp)</text>
<text transform="translate(218 1045.7) rotate(-90)" text-anchor="middle" font-size="76.7" font-weight="bold">Average occupancy</text>
<rect x="2255.8" y="287.0" width="819.9" height="472.8" rx="12.6" ry="12.6" fill="#fff" fill-opacity="0.8" stroke="#cccccc" stroke-opacity="0.8" stroke-width="7.5"/>
<line x1="2280.7" y1="348.75" x2="2445.6" y2="348.75" stroke="#0000ff" stroke-width="11.5"/>
<text x="2501.0" y="375.9" font-size="76.8">HIF3A forward</text>
<line x1="2280.7" y1="461.38" x2="2445.6" y2="461.38" stroke="#ff0000" stroke-width="11.5"/>
<text x="2501.0" y="488.5" font-size="76.8">HIF3A reverse</text>
<line x1="2280.7" y1="574.01" x2="2445.6" y2="574.01" stroke="#000000" stroke-width="11.5"/>
<text x="2501.0" y="601.1" font-size="76.8">IgG forward</text>
<line x1="2280.7" y1="686.64" x2="2445.6" y2="686.64" stroke="#808080" stroke-width="11.5"/>
<text x="2501.0" y="713.7" font-size="76.8">IgG reverse</text>
</svg></body></html>
